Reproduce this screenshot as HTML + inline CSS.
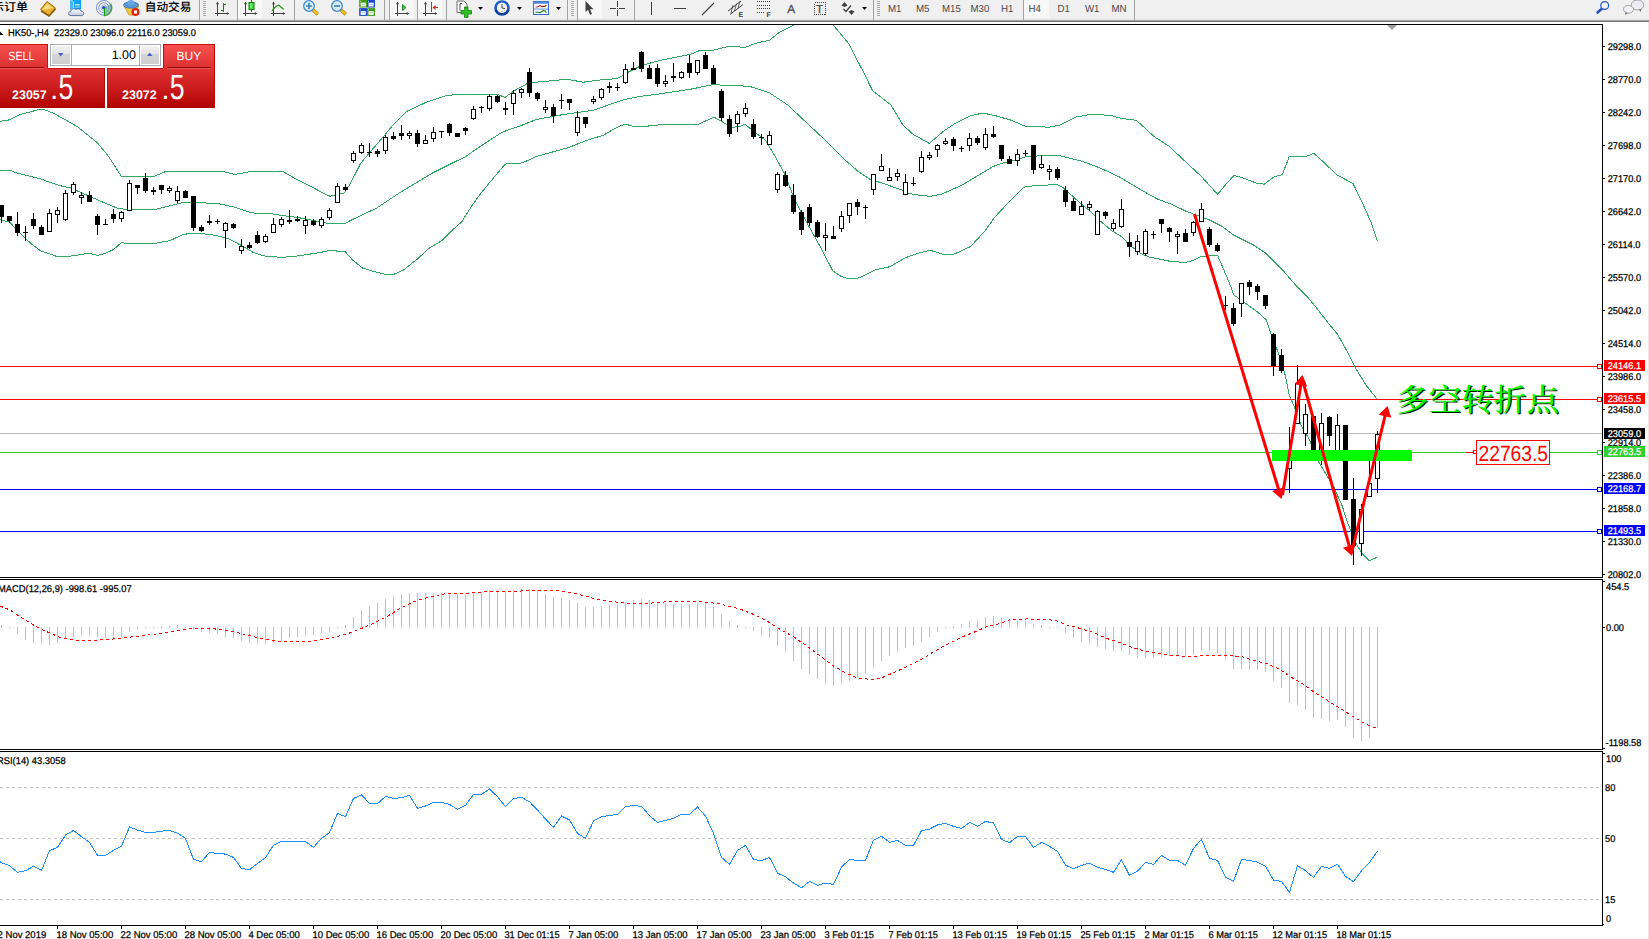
<!DOCTYPE html>
<html><head><meta charset="utf-8"><title>HK50 H4</title>
<style>
html,body{margin:0;padding:0;background:#fff;}
body{width:1649px;height:939px;overflow:hidden;position:relative;font-family:"Liberation Sans", "Noto Sans CJK SC", sans-serif;}
svg{position:absolute;left:0;top:0;display:block;font-family:"Liberation Sans", "Noto Sans CJK SC", sans-serif;}
svg text{white-space:pre;text-rendering:geometricPrecision;}
</style></head><body>
<svg width="1649" height="939" viewBox="0 0 1649 939">
<rect x="0" y="0" width="1649" height="939" fill="#fff"/>
<rect x="0" y="0" width="1649" height="20" fill="#f0f0f0"/><rect x="0" y="19" width="1649" height="1" fill="#e2e2e2"/>
<rect x="0" y="20" width="1649" height="1" fill="#a8a8a8"/><rect x="0" y="21" width="1649" height="1" fill="#707070"/><rect x="0" y="22" width="1649" height="2" fill="#fdfdfd"/>
<rect x="1648" y="22" width="1" height="917" fill="#e8e8e8"/>
<text x="28" y="11.2" font-size="11.5" font-weight="500" text-anchor="end" fill="#000" textLength="36" lengthAdjust="spacingAndGlyphs">示订单</text>
<path d="M40.5 9.5 L47 1.5 L55.5 8 L49 15.5 Z" fill="#e8b030" stroke="#9a6a10" stroke-width="1"/><path d="M42 10 L47.5 3.5 L53 8 Z" fill="#f8dc80"/><path d="M41 11 L49 16 L55.5 9" stroke="#8a5a08" stroke-width="1.5" fill="none"/>
<defs><linearGradient id="cl" x1="0" y1="0" x2="0" y2="1"><stop offset="0" stop-color="#ffffff"/><stop offset="1" stop-color="#bcc8dc"/></linearGradient></defs><rect x="70.3" y="-1" width="10.8" height="10.5" fill="#0ea0fa"/><path d="M70.3 -1 L73.6 1.8 L73.6 9.5 L70.3 9.5 Z" fill="#46b8ff"/><path d="M70.6 -0.5 L73.6 1.8 V9" stroke="#d8f0ff" stroke-width="0.7" fill="none"/><rect x="75" y="4.2" width="4.8" height="1.2" fill="#e8f6ff"/><rect x="75" y="6.6" width="4.8" height="1" fill="#9cd8ff"/><path d="M71 15.6 C68 15.6 67.6 11.4 71 11.2 C71.2 8.6 74.6 8 76 9.8 C77.4 8.2 80.6 8.8 80.8 11 C84.4 10.8 84.8 15.6 81.4 15.6 Z" fill="url(#cl)" stroke="#4c68a4" stroke-width="0.9"/>
<path d="M103.8 7.8 L103.8 15.8 A8 8 0 0 0 110.7 3.8 Z" fill="#48b048" opacity="0.55"/><g fill="none"><circle cx="103.8" cy="7.8" r="7.4" stroke="#5078d0" stroke-width="1" opacity="0.75"/><circle cx="103.8" cy="7.8" r="5" stroke="#6088d8" stroke-width="1" opacity="0.7"/><circle cx="103.8" cy="7.8" r="2.9" stroke="#80a0e0" stroke-width="0.9" opacity="0.7"/></g><path d="M103.8 15.8 A8 8 0 0 0 110.7 3.8" stroke="#309030" stroke-width="1.2" fill="none" opacity="0.8"/><circle cx="103.8" cy="7.8" r="1.8" fill="#1c4cc8"/><rect x="104" y="8" width="1" height="8" fill="#10a010"/>
<path d="M124 6 L139 6 L133 15 L129 15 Z" fill="#f0c840" stroke="#c09820" stroke-width="0.8"/><ellipse cx="131" cy="5" rx="7.5" ry="3.2" fill="#5a9ad8" stroke="#3a70b0" stroke-width="0.8"/><ellipse cx="131" cy="2.5" rx="3.5" ry="2.5" fill="#6aa8e0"/><circle cx="135.5" cy="12" r="4" fill="#e02010"/><rect x="134" y="10.5" width="3" height="3" fill="#fff"/>
<text x="144.8" y="11.3" font-size="11.5" font-weight="500" fill="#000" textLength="46.6" lengthAdjust="spacingAndGlyphs">自动交易</text>
<rect x="199" y="0" width="1" height="20" fill="#a0a0a0" shape-rendering="crispEdges"/>
<rect x="203" y="1" width="3" height="1" fill="#a8a8a8" shape-rendering="crispEdges"/>
<rect x="203" y="3" width="3" height="1" fill="#a8a8a8" shape-rendering="crispEdges"/>
<rect x="203" y="5" width="3" height="1" fill="#a8a8a8" shape-rendering="crispEdges"/>
<rect x="203" y="7" width="3" height="1" fill="#a8a8a8" shape-rendering="crispEdges"/>
<rect x="203" y="9" width="3" height="1" fill="#a8a8a8" shape-rendering="crispEdges"/>
<rect x="203" y="11" width="3" height="1" fill="#a8a8a8" shape-rendering="crispEdges"/>
<rect x="203" y="13" width="3" height="1" fill="#a8a8a8" shape-rendering="crispEdges"/>
<rect x="203" y="15" width="3" height="1" fill="#a8a8a8" shape-rendering="crispEdges"/>
<g fill="#404040" shape-rendering="crispEdges"><rect x="217" y="3" width="1" height="13"/><rect x="215" y="13" width="13" height="1"/></g><path d="M217.5 1.6 L216 4.2 L219 4.2 Z M229.3 13.5 L226.8 12 L226.8 15 Z" fill="#404040"/>
<g fill="#0a8a0a" shape-rendering="crispEdges"><rect x="222.5" y="3" width="1.5" height="9"/><rect x="224" y="4" width="2" height="1"/><rect x="221" y="10" width="2" height="1"/></g>
<rect x="237" y="0" width="1" height="20" fill="#a0a0a0" shape-rendering="crispEdges"/>
<rect x="238" y="0" width="24" height="18" fill="#f8f8f8" shape-rendering="crispEdges"/>
<g fill="#404040" shape-rendering="crispEdges"><rect x="245" y="3" width="1" height="13"/><rect x="243" y="13" width="13" height="1"/></g><path d="M245.5 1.6 L244 4.2 L247 4.2 Z M257.3 13.5 L254.8 12 L254.8 15 Z" fill="#404040"/>
<rect x="251" y="0" width="1" height="12" fill="#108010" shape-rendering="crispEdges"/><rect x="249" y="2.5" width="5" height="7" fill="#38dc38" stroke="#0c800c" stroke-width="1"/><rect x="250.3" y="3.5" width="1.6" height="5" fill="#90f890" opacity="0.7"/>
<g fill="#404040" shape-rendering="crispEdges"><rect x="273" y="3" width="1" height="13"/><rect x="271" y="13" width="13" height="1"/></g><path d="M273.5 1.6 L272 4.2 L275 4.2 Z M285.3 13.5 L282.8 12 L282.8 15 Z" fill="#404040"/>
<path d="M272 10.8 C274.5 8 276.5 5.2 278.3 5.4 C280 5.6 281.5 8 283.8 9.2" stroke="#1c981c" stroke-width="1.2" fill="none"/>
<rect x="294" y="0" width="1" height="20" fill="#a0a0a0" shape-rendering="crispEdges"/>
<path d="M313 10 L317.8 14.3" stroke="#b08010" stroke-width="3.6" stroke-linecap="butt"/><path d="M313 10 L317.6 14.1" stroke="#e8c020" stroke-width="2.4" stroke-linecap="butt"/><circle cx="309" cy="6" r="5.3" fill="#d8ecfc" stroke="#4088d0" stroke-width="1.3"/><path d="M306 6 H312 M309 3 V9" stroke="#3c88b8" stroke-width="1.7"/>
<path d="M341 10 L345.8 14.3" stroke="#b08010" stroke-width="3.6" stroke-linecap="butt"/><path d="M341 10 L345.6 14.1" stroke="#e8c020" stroke-width="2.4" stroke-linecap="butt"/><circle cx="337" cy="6" r="5.3" fill="#d8ecfc" stroke="#4088d0" stroke-width="1.3"/><path d="M334 6 H340" stroke="#3c88b8" stroke-width="1.7"/>
<rect x="359.2" y="-0.3" width="7.9" height="7.8" fill="#3c9c18"/><rect x="360.59999999999997" y="2.7" width="5.2" height="3.8" fill="#ffffff"/><rect x="361.4" y="3.9000000000000004" width="3.6" height="0.9" fill="#a8d890"/><rect x="360.2" y="0.8999999999999999" width="0.9" height="0.9" fill="#e0f0e0"/>
<rect x="367.1" y="-0.3" width="7.9" height="7.8" fill="#1848c8"/><rect x="368.5" y="2.7" width="5.2" height="3.8" fill="#ffffff"/><rect x="369.3" y="3.9000000000000004" width="3.6" height="0.9" fill="#a0b8f0"/><rect x="368.1" y="0.8999999999999999" width="0.9" height="0.9" fill="#e0f0e0"/>
<rect x="359.2" y="8.1" width="7.9" height="7.8" fill="#1848c8"/><rect x="360.59999999999997" y="11.1" width="5.2" height="3.8" fill="#ffffff"/><rect x="361.4" y="12.3" width="3.6" height="0.9" fill="#a0b8f0"/><rect x="360.2" y="9.299999999999999" width="0.9" height="0.9" fill="#e0f0e0"/>
<rect x="367.1" y="8.1" width="7.9" height="7.8" fill="#3c9c18"/><rect x="368.5" y="11.1" width="5.2" height="3.8" fill="#ffffff"/><rect x="369.3" y="12.3" width="3.6" height="0.9" fill="#a8d890"/><rect x="368.1" y="9.299999999999999" width="0.9" height="0.9" fill="#e0f0e0"/>
<rect x="384" y="0" width="1" height="20" fill="#a0a0a0" shape-rendering="crispEdges"/>
<rect x="389" y="0" width="1" height="20" fill="#a0a0a0" shape-rendering="crispEdges"/>
<rect x="390" y="0" width="24" height="18" fill="#f8f8f8" shape-rendering="crispEdges"/>
<g fill="#404040" shape-rendering="crispEdges"><rect x="397" y="3" width="1" height="13"/><rect x="395" y="13" width="13" height="1"/></g><path d="M397.5 1.6 L396 4.2 L399 4.2 Z M409.3 13.5 L406.8 12 L406.8 15 Z" fill="#404040"/>
<path d="M402.5 4.5 L406 7.5 L402.5 10.5 Z" fill="#40c040" stroke="#108010" stroke-width="0.8"/>
<rect x="417" y="0" width="1" height="20" fill="#a0a0a0" shape-rendering="crispEdges"/>
<rect x="418" y="0" width="24" height="18" fill="#f8f8f8" shape-rendering="crispEdges"/>
<g fill="#404040" shape-rendering="crispEdges"><rect x="425" y="3" width="1" height="13"/><rect x="423" y="13" width="13" height="1"/></g><path d="M425.5 1.6 L424 4.2 L427 4.2 Z M437.3 13.5 L434.8 12 L434.8 15 Z" fill="#404040"/>
<rect x="431" y="2" width="1" height="10" fill="#2060c0" shape-rendering="crispEdges"/><path d="M433 7.5 H438" stroke="#d03010" stroke-width="1" fill="none"/><path d="M432.5 7.5 L435.5 5 L435.5 10 Z" fill="#d03010"/>
<rect x="446" y="0" width="1" height="20" fill="#a0a0a0" shape-rendering="crispEdges"/>
<path d="M457 1 H464 L467 4 V12.5 H457 Z" fill="#fff" stroke="#707070" stroke-width="1"/><path d="M460 3.5 v7 M460 3.5 h2" stroke="#505050" stroke-width="1" fill="none"/><path d="M464.5 7 h3.5 v3.5 h3.5 v3.5 h-3.5 v3.5 h-3.5 v-3.5 h-3.5 v-3.5 h3.5 Z" fill="#30c020" stroke="#108010" stroke-width="0.8"/>
<path d="M478 7 L483 7 L480.5 10 Z" fill="#000"/>
<circle cx="502" cy="8" r="7.8" fill="#1a5cc8"/><path d="M494.6 10 A7.8 7.8 0 0 0 509.4 10 Z" fill="#0c3c98"/><circle cx="502" cy="7.8" r="5.2" fill="#f4f4f8"/><path d="M502 4.2 V8 L505 8.6" stroke="#303030" stroke-width="0.9" fill="none"/><circle cx="502" cy="11.6" r="0.6" fill="#5090e0"/>
<path d="M517 7 L522 7 L519.5 10 Z" fill="#000"/>
<rect x="533.5" y="1.5" width="15" height="13" fill="#fff" stroke="#3c70cc" stroke-width="1.1"/><rect x="533.5" y="1.5" width="15" height="2.2" fill="#5088dc"/><rect x="534" y="8.6" width="14" height="0.9" fill="#4c80d4"/><path d="M535.5 7 L538 6.8 L540 5.6 L542 6.6 L544.5 6.4 L546.5 5.2" stroke="#a02010" stroke-width="1.1" fill="none"/><path d="M535.5 12.3 L538 12 L540 12.8 L543 10.6 L545 11 L546.5 12.6" stroke="#109020" stroke-width="1.1" fill="none"/>
<path d="M556 7 L561 7 L558.5 10 Z" fill="#000"/>
<rect x="567" y="0" width="1" height="20" fill="#a0a0a0" shape-rendering="crispEdges"/>
<rect x="571" y="1" width="3" height="1" fill="#a8a8a8" shape-rendering="crispEdges"/>
<rect x="571" y="3" width="3" height="1" fill="#a8a8a8" shape-rendering="crispEdges"/>
<rect x="571" y="5" width="3" height="1" fill="#a8a8a8" shape-rendering="crispEdges"/>
<rect x="571" y="7" width="3" height="1" fill="#a8a8a8" shape-rendering="crispEdges"/>
<rect x="571" y="9" width="3" height="1" fill="#a8a8a8" shape-rendering="crispEdges"/>
<rect x="571" y="11" width="3" height="1" fill="#a8a8a8" shape-rendering="crispEdges"/>
<rect x="571" y="13" width="3" height="1" fill="#a8a8a8" shape-rendering="crispEdges"/>
<rect x="571" y="15" width="3" height="1" fill="#a8a8a8" shape-rendering="crispEdges"/>
<rect x="577" y="0" width="1" height="20" fill="#a0a0a0" shape-rendering="crispEdges"/>
<rect x="578" y="0" width="24" height="18" fill="#f8f8f8" shape-rendering="crispEdges"/>
<path d="M585.5 1 L585.5 12 L588 9.8 L590 14.8 L592 14 L590 9.2 L593.5 9.2 Z" fill="#404040"/>
<g shape-rendering="crispEdges" fill="#404040"><rect x="617" y="1" width="1" height="15"/><rect x="610" y="8" width="15" height="1"/></g><rect x="616" y="7" width="3" height="3" fill="#f0f0f0"/><rect x="617" y="8" width="1" height="1" fill="#404040"/>
<rect x="634" y="0" width="1" height="20" fill="#a0a0a0" shape-rendering="crispEdges"/>
<g shape-rendering="crispEdges" fill="#404040"><rect x="651" y="2" width="1" height="13"/><rect x="674" y="8" width="12" height="1"/></g>
<path d="M702 15 L714 3" stroke="#404040" stroke-width="1.1"/>
<g stroke="#404040" stroke-width="1" fill="none"><path d="M728 11 L741 1 M730 14.5 L743 4.5" /><path d="M731 13 L733 5 M734.5 11 L736.5 3.5 M738 8.5 L740 1" stroke-width="0.8"/></g><text x="738.5" y="16.8" font-size="7" font-weight="bold" fill="#404040">E</text>
<line x1="757" y1="1.5" x2="771" y2="1.5" stroke="#404040" stroke-width="1" stroke-dasharray="1 1" shape-rendering="crispEdges"/>
<line x1="757" y1="5.5" x2="771" y2="5.5" stroke="#404040" stroke-width="1" stroke-dasharray="1 1" shape-rendering="crispEdges"/>
<line x1="757" y1="8.5" x2="771" y2="8.5" stroke="#404040" stroke-width="1" stroke-dasharray="1 1" shape-rendering="crispEdges"/>
<line x1="757" y1="12.5" x2="765" y2="12.5" stroke="#404040" stroke-width="1" stroke-dasharray="1 1" shape-rendering="crispEdges"/>
<text x="766.5" y="16.8" font-size="7" font-weight="bold" fill="#404040">F</text>
<text x="787.3" y="12.6" font-size="11.8" fill="#505050" stroke="#505050" stroke-width="0.3">A</text>
<rect x="814.5" y="2.5" width="11" height="12" fill="none" stroke="#404040" stroke-width="1" stroke-dasharray="1 1" shape-rendering="crispEdges"/><text x="816" y="12.6" font-size="11.5" fill="#505050" stroke="#505050" stroke-width="0.3">T</text>
<path d="M841.5 5.5 L844.5 2 L847.5 5.5 L844.5 7 Z M848.5 11.5 L851.5 10 L854.5 11.5 L851.5 15 Z" fill="#404040"/><path d="M843.5 9 L846 11.5 L851 5.5" stroke="#404040" stroke-width="1.3" fill="none"/>
<path d="M862 7 L867 7 L864.5 10 Z" fill="#000"/>
<rect x="873" y="0" width="1" height="20" fill="#a0a0a0" shape-rendering="crispEdges"/>
<rect x="877" y="1" width="3" height="1" fill="#a8a8a8" shape-rendering="crispEdges"/>
<rect x="877" y="3" width="3" height="1" fill="#a8a8a8" shape-rendering="crispEdges"/>
<rect x="877" y="5" width="3" height="1" fill="#a8a8a8" shape-rendering="crispEdges"/>
<rect x="877" y="7" width="3" height="1" fill="#a8a8a8" shape-rendering="crispEdges"/>
<rect x="877" y="9" width="3" height="1" fill="#a8a8a8" shape-rendering="crispEdges"/>
<rect x="877" y="11" width="3" height="1" fill="#a8a8a8" shape-rendering="crispEdges"/>
<rect x="877" y="13" width="3" height="1" fill="#a8a8a8" shape-rendering="crispEdges"/>
<rect x="877" y="15" width="3" height="1" fill="#a8a8a8" shape-rendering="crispEdges"/>
<text x="888" y="12.2" font-size="10.2" fill="#484848" textLength="13.5" lengthAdjust="spacingAndGlyphs">M1</text>
<text x="916" y="12.2" font-size="10.2" fill="#484848" textLength="13.5" lengthAdjust="spacingAndGlyphs">M5</text>
<text x="942" y="12.2" font-size="10.2" fill="#484848" textLength="18.8" lengthAdjust="spacingAndGlyphs">M15</text>
<text x="970.5" y="12.2" font-size="10.2" fill="#484848" textLength="18.8" lengthAdjust="spacingAndGlyphs">M30</text>
<text x="1001" y="12.2" font-size="10.2" fill="#484848" textLength="12.4" lengthAdjust="spacingAndGlyphs">H1</text>
<text x="1057.5" y="12.2" font-size="10.2" fill="#484848" textLength="12.4" lengthAdjust="spacingAndGlyphs">D1</text>
<text x="1085" y="12.2" font-size="10.2" fill="#484848" textLength="14.5" lengthAdjust="spacingAndGlyphs">W1</text>
<text x="1111.5" y="12.2" font-size="10.2" fill="#484848" textLength="15.1" lengthAdjust="spacingAndGlyphs">MN</text>
<rect x="1023" y="0" width="1" height="20" fill="#a0a0a0" shape-rendering="crispEdges"/>
<rect x="1024" y="0" width="25" height="18" fill="#f8f8f8" shape-rendering="crispEdges"/>
<text x="1028.5" y="12.2" font-size="10.2" fill="#484848" textLength="12.4" lengthAdjust="spacingAndGlyphs">H4</text>
<rect x="1134" y="0" width="1" height="20" fill="#a0a0a0" shape-rendering="crispEdges"/>
<path d="M1602 8.5 L1597.5 12.5" stroke="#2050c8" stroke-width="2.6" stroke-linecap="round"/><circle cx="1604.7" cy="5.5" r="3.9" fill="#f8f8ff" stroke="#2458d0" stroke-width="1.3"/>
<ellipse cx="1637.5" cy="5" rx="6.3" ry="5" fill="#ececf2" stroke="#9a9a9a" stroke-width="0.9"/><path d="M1639 9.5 L1640.5 12 L1641.5 9" fill="#707070"/><ellipse cx="1628.5" cy="9.3" rx="5" ry="3.9" fill="#f0f0f6" stroke="#9a9a9a" stroke-width="0.9"/><path d="M1625.5 12.5 L1625 15 L1628 13" fill="#707070"/>
<g shape-rendering="crispEdges">
<rect x="0" y="24" width="1603" height="1" fill="#000" />
<rect x="0" y="577" width="1603" height="1" fill="#000" />
<rect x="0" y="579" width="1603" height="1" fill="#000" />
<rect x="0" y="749" width="1603" height="1" fill="#000" />
<rect x="0" y="751" width="1603" height="1" fill="#000" />
<rect x="0" y="925" width="1603" height="1" fill="#000" />
<rect x="1602" y="24" width="1" height="554" fill="#000" />
<rect x="1602" y="579" width="1" height="171" fill="#000" />
<rect x="1602" y="751" width="1" height="175" fill="#000" />
</g>
<defs><clipPath id="cm"><rect x="0" y="25" width="1602" height="552"/></clipPath></defs>
<g shape-rendering="crispEdges">
<rect x="0" y="366" width="1602" height="1" fill="#ff0000" />
<rect x="0" y="399" width="1602" height="1" fill="#ff0000" />
<rect x="0" y="433" width="1602" height="1" fill="#c0c0c0" />
<rect x="0" y="452" width="1602" height="1" fill="#32cd32" />
<rect x="0" y="489" width="1602" height="1" fill="#0000ff" />
<rect x="0" y="531" width="1602" height="1" fill="#0000ff" />
</g>
<g clip-path="url(#cm)" shape-rendering="crispEdges">
<polyline points="0.0,121.2 8.1,120.2 20.2,114.6 38.4,109.7 44.5,109.7 54.6,113.8 76.9,126.3 97.1,142.5 107.2,154.6 115.3,166.8 121.4,176.5 153.8,176.5 165.9,171.4 196.3,171.2 204.4,172.0 222.6,171.4 234.7,174.5 252.9,171.2 282.3,171.2 297.4,179.9 315.6,189.0 323.7,193.5 330.1,196.3 344.3,192.9 350.3,183.8 360.5,163.5 370.6,151.4 384.7,135.2 392.8,125.1 407.0,111.3 427.2,101.8 445.4,95.8 457.6,94.3 477.8,94.3 498.1,94.7 505.1,97.4 514.2,90.7 528.4,83.0 542.6,81.6 566.8,79.2 583.0,82.2 603.3,79.6 617.4,78.6 627.5,72.5 641.7,65.4 660.2,60.4 690.6,54.3 698.7,50.9 710.8,50.9 729.0,46.3 745.2,47.3 757.4,42.8 769.5,40.2 779.6,32.1 793.8,25.0" fill="none" stroke="#30a862" stroke-width="1" />
<polyline points="833.2,25.0 848.4,43.2 862.6,70.5 872.7,90.8 890.9,104.9 903.0,125.2 913.1,134.3 929.3,143.4 943.5,131.2 955.6,123.1 970.0,116.1 982.6,113.0 994.7,115.5 1010.9,120.1 1025.1,126.2 1049.3,127.2 1059.4,125.2 1075.6,117.1 1090.0,114.5 1109.7,115.2 1121.9,118.6 1136.0,120.2 1144.1,127.3 1146.8,130.0 1154.9,137.1 1169.0,146.2 1185.2,161.4 1201.4,176.5 1217.6,194.3 1225.7,184.6 1233.8,175.5 1241.9,177.5 1256.0,183.0 1264.1,184.2 1274.2,176.9 1282.3,174.5 1289.4,156.3 1306.6,156.3 1313.7,153.3 1322.8,161.4 1337.0,174.9 1353.1,183.6 1363.3,204.9 1371.4,223.1 1377.4,241.3" fill="none" stroke="#30a862" stroke-width="1" />
<polyline points="0.0,170.4 10.1,170.4 16.2,172.8 40.5,178.9 58.7,185.4 70.8,188.0 89.0,196.1 105.2,203.2 117.4,208.2 129.5,209.9 155.8,209.3 182.1,202.8 190.2,202.2 202.3,202.8 218.5,203.6 234.7,207.2 248.9,211.9 254.9,213.3 271.1,213.7 283.3,215.7 297.4,217.4 307.5,219.4 330.0,223.8 345.5,223.2 351.4,220.0 376.7,208.1 400.9,191.9 433.3,172.6 465.7,156.5 481.9,145.3 502.1,132.2 522.3,125.1 536.5,119.4 562.8,114.6 593.1,110.3 623.5,99.8 639.7,96.4 660.2,93.8 690.6,89.2 712.8,84.7 749.3,86.3 769.5,92.8 787.7,104.9 805.9,122.1 822.1,137.3 842.3,157.5 858.5,171.7 870.7,179.8 881.4,182.8 901.6,189.9 905.7,193.0 917.8,195.0 930.0,196.4 942.1,194.0 962.3,184.9 982.6,172.7 992.7,166.7 1002.8,163.0 1017.0,159.6 1025.1,156.9 1043.3,155.5 1059.4,155.5 1075.6,159.6 1083.7,161.8 1100.2,168.0 1120.5,177.5 1140.7,189.7 1156.9,198.8 1173.1,204.9 1185.2,210.9 1193.3,214.0 1209.5,220.0 1221.6,226.1 1233.8,235.2 1254.0,245.3 1266.1,253.4 1282.3,269.6 1294.5,283.8 1306.6,295.9 1316.7,308.1 1325.8,320.0 1337.8,334.6 1347.9,352.8 1356.0,369.0 1366.1,385.2 1377.3,399.4" fill="none" stroke="#30a862" stroke-width="1" />
<polyline points="0.0,219.4 10.1,222.4 16.2,229.5 24.3,237.6 32.4,244.7 40.5,250.7 56.7,256.4 68.8,256.4 89.0,253.2 97.1,255.4 105.2,253.4 113.3,249.7 121.4,242.6 129.5,243.7 155.8,243.2 170.0,240.6 184.1,234.1 200.3,233.5 214.5,235.2 228.6,238.6 242.8,246.3 252.9,252.2 263.0,255.8 281.2,257.4 299.4,255.8 321.7,252.2 330.0,250.3 345.5,252.0 352.6,260.0 362.7,268.1 372.8,271.2 385.0,274.2 394.1,274.2 403.2,270.2 417.4,259.0 429.5,247.9 441.6,240.8 451.8,230.7 461.9,221.6 471.7,206.0 481.9,191.9 492.0,179.7 505.1,164.1 522.3,162.9 536.5,156.5 568.9,147.4 587.1,140.3 603.3,135.2 617.4,127.1 625.5,124.1 633.6,126.5 643.7,126.5 660.2,124.8 698.7,124.2 713.9,117.1 720.9,121.1 731.0,127.2 739.1,126.8 745.2,124.2 753.3,131.2 765.4,140.3 773.5,153.5 785.7,175.7 793.8,198.0 800.5,211.2 810.6,229.4 820.7,247.6 832.8,270.9 840.9,276.3 849.0,278.9 859.1,277.9 875.3,269.8 889.5,266.8 905.7,257.7 917.8,253.2 930.0,250.2 942.1,254.1 954.2,254.1 970.4,246.6 984.6,231.4 994.7,217.2 1008.9,202.1 1023.0,187.9 1027.1,186.3 1043.3,185.3 1057.4,184.5 1063.5,187.9 1075.6,199.0 1083.7,206.1 1090.1,210.9 1100.2,221.0 1112.4,231.2 1122.5,237.2 1128.6,244.3 1140.7,253.4 1148.8,256.9 1169.0,261.1 1185.2,262.5 1193.3,260.5 1201.4,256.5 1217.6,255.4 1221.6,264.5 1229.7,283.8 1233.8,294.9 1246.8,304.3 1256.9,311.4 1266.0,319.5 1271.0,333.6 1279.1,354.9 1285.2,375.1 1289.3,395.3 1296.3,411.5 1301.4,425.7 1309.5,439.8 1317.6,460.1 1321.6,466.8 1333.8,487.0 1341.9,505.2 1347.9,523.4 1354.0,539.6 1362.1,553.8 1369.2,560.9 1377.3,557.2" fill="none" stroke="#30a862" stroke-width="1" />
</g>
<g clip-path="url(#cm)" shape-rendering="crispEdges">
<rect x="1" y="205" width="1" height="18" fill="#000" />
<rect x="-1" y="205" width="5" height="12" fill="#000" />
<rect x="9" y="216" width="1" height="7" fill="#000" />
<rect x="7" y="216" width="5" height="5" fill="#000" />
<rect x="17" y="212" width="1" height="24" fill="#000" />
<rect x="15" y="224" width="5" height="9" fill="#000" />
<rect x="25" y="226" width="1" height="15" fill="#000" />
<rect x="23" y="232" width="5" height="1" fill="#000" />
<rect x="33" y="213" width="1" height="16" fill="#000" />
<rect x="31" y="219" width="5" height="7" fill="#000" />
<rect x="41" y="225" width="1" height="10" fill="#000" />
<rect x="39" y="227" width="5" height="8" fill="#000" />
<rect x="49" y="209" width="1" height="23" fill="#000" />
<rect x="47" y="213" width="5" height="19" fill="#000" />
<rect x="48" y="214" width="3" height="17" fill="#fff" />
<rect x="57" y="207" width="1" height="16" fill="#000" />
<rect x="55" y="210" width="5" height="5" fill="#000" />
<rect x="56" y="211" width="3" height="3" fill="#fff" />
<rect x="65" y="190" width="1" height="31" fill="#000" />
<rect x="63" y="193" width="5" height="27" fill="#000" />
<rect x="64" y="194" width="3" height="25" fill="#fff" />
<rect x="73" y="182" width="1" height="13" fill="#000" />
<rect x="71" y="184" width="5" height="9" fill="#000" />
<rect x="72" y="185" width="3" height="7" fill="#fff" />
<rect x="81" y="192" width="1" height="12" fill="#000" />
<rect x="79" y="195" width="5" height="3" fill="#000" />
<rect x="80" y="196" width="3" height="1" fill="#fff" />
<rect x="89" y="191" width="1" height="11" fill="#000" />
<rect x="87" y="195" width="5" height="7" fill="#000" />
<rect x="97" y="214" width="1" height="21" fill="#000" />
<rect x="95" y="216" width="5" height="9" fill="#000" />
<rect x="105" y="219" width="1" height="6" fill="#000" />
<rect x="103" y="224" width="5" height="1" fill="#000" />
<rect x="113" y="209" width="1" height="14" fill="#000" />
<rect x="111" y="214" width="5" height="5" fill="#000" />
<rect x="121" y="211" width="1" height="11" fill="#000" />
<rect x="119" y="212" width="5" height="7" fill="#000" />
<rect x="120" y="213" width="3" height="5" fill="#fff" />
<rect x="129" y="180" width="1" height="31" fill="#000" />
<rect x="127" y="183" width="5" height="28" fill="#000" />
<rect x="128" y="184" width="3" height="26" fill="#fff" />
<rect x="137" y="185" width="1" height="9" fill="#000" />
<rect x="135" y="185" width="5" height="3" fill="#000" />
<rect x="145" y="173" width="1" height="20" fill="#000" />
<rect x="143" y="178" width="5" height="13" fill="#000" />
<rect x="153" y="187" width="1" height="8" fill="#000" />
<rect x="151" y="190" width="5" height="2" fill="#000" />
<rect x="161" y="185" width="1" height="9" fill="#000" />
<rect x="159" y="185" width="5" height="5" fill="#000" />
<rect x="169" y="186" width="1" height="7" fill="#000" />
<rect x="167" y="188" width="5" height="3" fill="#000" />
<rect x="168" y="189" width="3" height="1" fill="#fff" />
<rect x="177" y="186" width="1" height="17" fill="#000" />
<rect x="175" y="191" width="5" height="10" fill="#000" />
<rect x="176" y="192" width="3" height="8" fill="#fff" />
<rect x="185" y="190" width="1" height="8" fill="#000" />
<rect x="183" y="191" width="5" height="7" fill="#000" />
<rect x="193" y="196" width="1" height="35" fill="#000" />
<rect x="191" y="196" width="5" height="32" fill="#000" />
<rect x="201" y="225" width="1" height="7" fill="#000" />
<rect x="199" y="227" width="5" height="4" fill="#000" />
<rect x="209" y="215" width="1" height="10" fill="#000" />
<rect x="207" y="221" width="5" height="2" fill="#000" />
<rect x="217" y="219" width="1" height="5" fill="#000" />
<rect x="215" y="221" width="5" height="1" fill="#000" />
<rect x="225" y="222" width="1" height="26" fill="#000" />
<rect x="223" y="223" width="5" height="8" fill="#000" />
<rect x="224" y="224" width="3" height="6" fill="#fff" />
<rect x="233" y="223" width="1" height="6" fill="#000" />
<rect x="231" y="224" width="5" height="4" fill="#000" />
<rect x="241" y="239" width="1" height="15" fill="#000" />
<rect x="239" y="246" width="5" height="5" fill="#000" />
<rect x="240" y="247" width="3" height="3" fill="#fff" />
<rect x="249" y="242" width="1" height="7" fill="#000" />
<rect x="247" y="245" width="5" height="3" fill="#000" />
<rect x="257" y="231" width="1" height="13" fill="#000" />
<rect x="255" y="235" width="5" height="8" fill="#000" />
<rect x="265" y="234" width="1" height="9" fill="#000" />
<rect x="263" y="236" width="5" height="6" fill="#000" />
<rect x="264" y="237" width="3" height="4" fill="#fff" />
<rect x="273" y="218" width="1" height="15" fill="#000" />
<rect x="271" y="224" width="5" height="9" fill="#000" />
<rect x="272" y="225" width="3" height="7" fill="#fff" />
<rect x="281" y="217" width="1" height="10" fill="#000" />
<rect x="279" y="219" width="5" height="6" fill="#000" />
<rect x="280" y="220" width="3" height="4" fill="#fff" />
<rect x="289" y="210" width="1" height="14" fill="#000" />
<rect x="287" y="220" width="5" height="2" fill="#000" />
<rect x="297" y="216" width="1" height="6" fill="#000" />
<rect x="295" y="219" width="5" height="2" fill="#000" />
<rect x="305" y="216" width="1" height="18" fill="#000" />
<rect x="303" y="220" width="5" height="6" fill="#000" />
<rect x="304" y="221" width="3" height="4" fill="#fff" />
<rect x="313" y="219" width="1" height="7" fill="#000" />
<rect x="311" y="221" width="5" height="4" fill="#000" />
<rect x="321" y="217" width="1" height="11" fill="#000" />
<rect x="319" y="219" width="5" height="7" fill="#000" />
<rect x="320" y="220" width="3" height="5" fill="#fff" />
<rect x="329" y="208" width="1" height="12" fill="#000" />
<rect x="327" y="210" width="5" height="8" fill="#000" />
<rect x="328" y="211" width="3" height="6" fill="#fff" />
<rect x="337" y="183" width="1" height="20" fill="#000" />
<rect x="335" y="186" width="5" height="17" fill="#000" />
<rect x="336" y="187" width="3" height="15" fill="#fff" />
<rect x="345" y="184" width="1" height="7" fill="#000" />
<rect x="343" y="187" width="5" height="3" fill="#000" />
<rect x="353" y="151" width="1" height="12" fill="#000" />
<rect x="351" y="153" width="5" height="8" fill="#000" />
<rect x="352" y="154" width="3" height="6" fill="#fff" />
<rect x="361" y="143" width="1" height="11" fill="#000" />
<rect x="359" y="145" width="5" height="8" fill="#000" />
<rect x="360" y="146" width="3" height="6" fill="#fff" />
<rect x="369" y="143" width="1" height="14" fill="#000" />
<rect x="367" y="152" width="5" height="1" fill="#000" />
<rect x="377" y="149" width="1" height="8" fill="#000" />
<rect x="375" y="151" width="5" height="3" fill="#000" />
<rect x="385" y="135" width="1" height="19" fill="#000" />
<rect x="383" y="137" width="5" height="14" fill="#000" />
<rect x="384" y="138" width="3" height="12" fill="#fff" />
<rect x="393" y="132" width="1" height="8" fill="#000" />
<rect x="391" y="136" width="5" height="3" fill="#000" />
<rect x="401" y="125" width="1" height="15" fill="#000" />
<rect x="399" y="133" width="5" height="3" fill="#000" />
<rect x="409" y="131" width="1" height="8" fill="#000" />
<rect x="407" y="133" width="5" height="3" fill="#000" />
<rect x="408" y="134" width="3" height="1" fill="#fff" />
<rect x="417" y="130" width="1" height="17" fill="#000" />
<rect x="415" y="133" width="5" height="11" fill="#000" />
<rect x="425" y="135" width="1" height="9" fill="#000" />
<rect x="423" y="140" width="5" height="4" fill="#000" />
<rect x="424" y="141" width="3" height="2" fill="#fff" />
<rect x="433" y="127" width="1" height="15" fill="#000" />
<rect x="431" y="132" width="5" height="7" fill="#000" />
<rect x="432" y="133" width="3" height="5" fill="#fff" />
<rect x="441" y="131" width="1" height="7" fill="#000" />
<rect x="439" y="131" width="5" height="1" fill="#000" />
<rect x="449" y="123" width="1" height="13" fill="#000" />
<rect x="447" y="124" width="5" height="9" fill="#000" />
<rect x="457" y="133" width="1" height="4" fill="#000" />
<rect x="455" y="133" width="5" height="4" fill="#000" />
<rect x="465" y="127" width="1" height="8" fill="#000" />
<rect x="463" y="128" width="5" height="3" fill="#000" />
<rect x="473" y="106" width="1" height="14" fill="#000" />
<rect x="471" y="109" width="5" height="10" fill="#000" />
<rect x="472" y="110" width="3" height="8" fill="#fff" />
<rect x="481" y="106" width="1" height="7" fill="#000" />
<rect x="479" y="107" width="5" height="1" fill="#000" />
<rect x="489" y="94" width="1" height="17" fill="#000" />
<rect x="487" y="96" width="5" height="13" fill="#000" />
<rect x="488" y="97" width="3" height="11" fill="#fff" />
<rect x="497" y="95" width="1" height="8" fill="#000" />
<rect x="495" y="96" width="5" height="6" fill="#000" />
<rect x="505" y="102" width="1" height="13" fill="#000" />
<rect x="503" y="108" width="5" height="2" fill="#000" />
<rect x="513" y="90" width="1" height="25" fill="#000" />
<rect x="511" y="93" width="5" height="11" fill="#000" />
<rect x="512" y="94" width="3" height="9" fill="#fff" />
<rect x="521" y="88" width="1" height="10" fill="#000" />
<rect x="519" y="89" width="5" height="4" fill="#000" />
<rect x="520" y="90" width="3" height="2" fill="#fff" />
<rect x="529" y="68" width="1" height="29" fill="#000" />
<rect x="527" y="72" width="5" height="21" fill="#000" />
<rect x="537" y="92" width="1" height="9" fill="#000" />
<rect x="535" y="93" width="5" height="6" fill="#000" />
<rect x="545" y="100" width="1" height="13" fill="#000" />
<rect x="543" y="107" width="5" height="3" fill="#000" />
<rect x="544" y="108" width="3" height="1" fill="#fff" />
<rect x="553" y="104" width="1" height="19" fill="#000" />
<rect x="551" y="107" width="5" height="9" fill="#000" />
<rect x="561" y="94" width="1" height="15" fill="#000" />
<rect x="559" y="100" width="5" height="1" fill="#000" />
<rect x="569" y="99" width="1" height="11" fill="#000" />
<rect x="567" y="99" width="5" height="4" fill="#000" />
<rect x="577" y="111" width="1" height="25" fill="#000" />
<rect x="575" y="117" width="5" height="16" fill="#000" />
<rect x="576" y="118" width="3" height="14" fill="#fff" />
<rect x="585" y="117" width="1" height="11" fill="#000" />
<rect x="583" y="117" width="5" height="7" fill="#000" />
<rect x="593" y="96" width="1" height="8" fill="#000" />
<rect x="591" y="99" width="5" height="3" fill="#000" />
<rect x="592" y="100" width="3" height="1" fill="#fff" />
<rect x="601" y="88" width="1" height="12" fill="#000" />
<rect x="599" y="89" width="5" height="9" fill="#000" />
<rect x="600" y="90" width="3" height="7" fill="#fff" />
<rect x="609" y="82" width="1" height="11" fill="#000" />
<rect x="607" y="86" width="5" height="2" fill="#000" />
<rect x="617" y="83" width="1" height="8" fill="#000" />
<rect x="615" y="87" width="5" height="1" fill="#000" />
<rect x="625" y="64" width="1" height="20" fill="#000" />
<rect x="623" y="69" width="5" height="14" fill="#000" />
<rect x="624" y="70" width="3" height="12" fill="#fff" />
<rect x="633" y="62" width="1" height="8" fill="#000" />
<rect x="631" y="68" width="5" height="2" fill="#000" />
<rect x="641" y="51" width="1" height="21" fill="#000" />
<rect x="639" y="52" width="5" height="17" fill="#000" />
<rect x="649" y="65" width="1" height="14" fill="#000" />
<rect x="647" y="68" width="5" height="11" fill="#000" />
<rect x="657" y="64" width="1" height="23" fill="#000" />
<rect x="655" y="68" width="5" height="16" fill="#000" />
<rect x="665" y="75" width="1" height="12" fill="#000" />
<rect x="663" y="81" width="5" height="3" fill="#000" />
<rect x="664" y="82" width="3" height="1" fill="#fff" />
<rect x="673" y="63" width="1" height="19" fill="#000" />
<rect x="671" y="76" width="5" height="2" fill="#000" />
<rect x="681" y="71" width="1" height="8" fill="#000" />
<rect x="679" y="72" width="5" height="6" fill="#000" />
<rect x="680" y="73" width="3" height="4" fill="#fff" />
<rect x="689" y="55" width="1" height="23" fill="#000" />
<rect x="687" y="63" width="5" height="10" fill="#000" />
<rect x="697" y="60" width="1" height="15" fill="#000" />
<rect x="695" y="60" width="5" height="13" fill="#000" />
<rect x="696" y="61" width="3" height="11" fill="#fff" />
<rect x="705" y="52" width="1" height="17" fill="#000" />
<rect x="703" y="55" width="5" height="14" fill="#000" />
<rect x="713" y="65" width="1" height="19" fill="#000" />
<rect x="711" y="68" width="5" height="16" fill="#000" />
<rect x="721" y="89" width="1" height="32" fill="#000" />
<rect x="719" y="91" width="5" height="27" fill="#000" />
<rect x="729" y="115" width="1" height="22" fill="#000" />
<rect x="727" y="119" width="5" height="15" fill="#000" />
<rect x="737" y="111" width="1" height="21" fill="#000" />
<rect x="735" y="114" width="5" height="10" fill="#000" />
<rect x="736" y="115" width="3" height="8" fill="#fff" />
<rect x="745" y="103" width="1" height="14" fill="#000" />
<rect x="743" y="108" width="5" height="6" fill="#000" />
<rect x="744" y="109" width="3" height="4" fill="#fff" />
<rect x="753" y="119" width="1" height="20" fill="#000" />
<rect x="751" y="124" width="5" height="13" fill="#000" />
<rect x="761" y="134" width="1" height="11" fill="#000" />
<rect x="759" y="137" width="5" height="1" fill="#000" />
<rect x="769" y="131" width="1" height="14" fill="#000" />
<rect x="767" y="135" width="5" height="10" fill="#000" />
<rect x="768" y="136" width="3" height="8" fill="#fff" />
<rect x="777" y="172" width="1" height="21" fill="#000" />
<rect x="775" y="174" width="5" height="16" fill="#000" />
<rect x="776" y="175" width="3" height="14" fill="#fff" />
<rect x="785" y="171" width="1" height="16" fill="#000" />
<rect x="783" y="175" width="5" height="11" fill="#000" />
<rect x="793" y="184" width="1" height="30" fill="#000" />
<rect x="791" y="195" width="5" height="17" fill="#000" />
<rect x="801" y="210" width="1" height="25" fill="#000" />
<rect x="799" y="212" width="5" height="18" fill="#000" />
<rect x="809" y="204" width="1" height="22" fill="#000" />
<rect x="807" y="207" width="5" height="16" fill="#000" />
<rect x="817" y="220" width="1" height="18" fill="#000" />
<rect x="815" y="222" width="5" height="15" fill="#000" />
<rect x="825" y="223" width="1" height="28" fill="#000" />
<rect x="823" y="235" width="5" height="3" fill="#000" />
<rect x="824" y="236" width="3" height="1" fill="#fff" />
<rect x="833" y="226" width="1" height="13" fill="#000" />
<rect x="831" y="236" width="5" height="3" fill="#000" />
<rect x="841" y="211" width="1" height="21" fill="#000" />
<rect x="839" y="216" width="5" height="13" fill="#000" />
<rect x="840" y="217" width="3" height="11" fill="#fff" />
<rect x="849" y="203" width="1" height="20" fill="#000" />
<rect x="847" y="203" width="5" height="13" fill="#000" />
<rect x="848" y="204" width="3" height="11" fill="#fff" />
<rect x="857" y="199" width="1" height="16" fill="#000" />
<rect x="855" y="202" width="5" height="5" fill="#000" />
<rect x="865" y="205" width="1" height="14" fill="#000" />
<rect x="863" y="207" width="5" height="1" fill="#000" />
<rect x="873" y="174" width="1" height="21" fill="#000" />
<rect x="871" y="174" width="5" height="16" fill="#000" />
<rect x="872" y="175" width="3" height="14" fill="#fff" />
<rect x="881" y="154" width="1" height="17" fill="#000" />
<rect x="879" y="166" width="5" height="5" fill="#000" />
<rect x="880" y="167" width="3" height="3" fill="#fff" />
<rect x="889" y="168" width="1" height="13" fill="#000" />
<rect x="887" y="177" width="5" height="4" fill="#000" />
<rect x="888" y="178" width="3" height="2" fill="#fff" />
<rect x="897" y="169" width="1" height="12" fill="#000" />
<rect x="895" y="173" width="5" height="4" fill="#000" />
<rect x="896" y="174" width="3" height="2" fill="#fff" />
<rect x="905" y="174" width="1" height="21" fill="#000" />
<rect x="903" y="182" width="5" height="13" fill="#000" />
<rect x="904" y="183" width="3" height="11" fill="#fff" />
<rect x="913" y="177" width="1" height="9" fill="#000" />
<rect x="911" y="183" width="5" height="1" fill="#000" />
<rect x="921" y="151" width="1" height="22" fill="#000" />
<rect x="919" y="157" width="5" height="15" fill="#000" />
<rect x="920" y="158" width="3" height="13" fill="#fff" />
<rect x="929" y="152" width="1" height="8" fill="#000" />
<rect x="927" y="155" width="5" height="3" fill="#000" />
<rect x="928" y="156" width="3" height="1" fill="#fff" />
<rect x="937" y="144" width="1" height="13" fill="#000" />
<rect x="935" y="145" width="5" height="5" fill="#000" />
<rect x="936" y="146" width="3" height="3" fill="#fff" />
<rect x="945" y="138" width="1" height="7" fill="#000" />
<rect x="943" y="141" width="5" height="3" fill="#000" />
<rect x="944" y="142" width="3" height="1" fill="#fff" />
<rect x="953" y="137" width="1" height="14" fill="#000" />
<rect x="951" y="139" width="5" height="7" fill="#000" />
<rect x="961" y="146" width="1" height="6" fill="#000" />
<rect x="959" y="148" width="5" height="1" fill="#000" />
<rect x="969" y="133" width="1" height="18" fill="#000" />
<rect x="967" y="138" width="5" height="8" fill="#000" />
<rect x="968" y="139" width="3" height="6" fill="#fff" />
<rect x="977" y="136" width="1" height="9" fill="#000" />
<rect x="975" y="138" width="5" height="5" fill="#000" />
<rect x="985" y="128" width="1" height="22" fill="#000" />
<rect x="983" y="134" width="5" height="14" fill="#000" />
<rect x="984" y="135" width="3" height="12" fill="#fff" />
<rect x="993" y="126" width="1" height="12" fill="#000" />
<rect x="991" y="134" width="5" height="3" fill="#000" />
<rect x="1001" y="145" width="1" height="16" fill="#000" />
<rect x="999" y="145" width="5" height="14" fill="#000" />
<rect x="1009" y="156" width="1" height="8" fill="#000" />
<rect x="1007" y="159" width="5" height="5" fill="#000" />
<rect x="1017" y="149" width="1" height="17" fill="#000" />
<rect x="1015" y="154" width="5" height="7" fill="#000" />
<rect x="1016" y="155" width="3" height="5" fill="#fff" />
<rect x="1025" y="150" width="1" height="6" fill="#000" />
<rect x="1023" y="153" width="5" height="1" fill="#000" />
<rect x="1033" y="145" width="1" height="29" fill="#000" />
<rect x="1031" y="145" width="5" height="25" fill="#000" />
<rect x="1041" y="155" width="1" height="14" fill="#000" />
<rect x="1039" y="164" width="5" height="4" fill="#000" />
<rect x="1040" y="165" width="3" height="2" fill="#fff" />
<rect x="1049" y="165" width="1" height="15" fill="#000" />
<rect x="1047" y="169" width="5" height="3" fill="#000" />
<rect x="1048" y="170" width="3" height="1" fill="#fff" />
<rect x="1057" y="167" width="1" height="13" fill="#000" />
<rect x="1055" y="169" width="5" height="9" fill="#000" />
<rect x="1065" y="186" width="1" height="21" fill="#000" />
<rect x="1063" y="190" width="5" height="12" fill="#000" />
<rect x="1073" y="198" width="1" height="13" fill="#000" />
<rect x="1071" y="201" width="5" height="10" fill="#000" />
<rect x="1081" y="201" width="1" height="14" fill="#000" />
<rect x="1079" y="206" width="5" height="9" fill="#000" />
<rect x="1080" y="207" width="3" height="7" fill="#fff" />
<rect x="1089" y="201" width="1" height="10" fill="#000" />
<rect x="1087" y="204" width="5" height="4" fill="#000" />
<rect x="1088" y="205" width="3" height="2" fill="#fff" />
<rect x="1097" y="210" width="1" height="25" fill="#000" />
<rect x="1095" y="211" width="5" height="24" fill="#000" />
<rect x="1096" y="212" width="3" height="22" fill="#fff" />
<rect x="1105" y="211" width="1" height="8" fill="#000" />
<rect x="1103" y="212" width="5" height="4" fill="#000" />
<rect x="1113" y="219" width="1" height="12" fill="#000" />
<rect x="1111" y="223" width="5" height="6" fill="#000" />
<rect x="1112" y="224" width="3" height="4" fill="#fff" />
<rect x="1121" y="199" width="1" height="29" fill="#000" />
<rect x="1119" y="209" width="5" height="18" fill="#000" />
<rect x="1120" y="210" width="3" height="16" fill="#fff" />
<rect x="1129" y="233" width="1" height="24" fill="#000" />
<rect x="1127" y="242" width="5" height="5" fill="#000" />
<rect x="1137" y="235" width="1" height="20" fill="#000" />
<rect x="1135" y="241" width="5" height="11" fill="#000" />
<rect x="1136" y="242" width="3" height="9" fill="#fff" />
<rect x="1145" y="229" width="1" height="27" fill="#000" />
<rect x="1143" y="231" width="5" height="23" fill="#000" />
<rect x="1144" y="232" width="3" height="21" fill="#fff" />
<rect x="1153" y="231" width="1" height="8" fill="#000" />
<rect x="1151" y="234" width="5" height="1" fill="#000" />
<rect x="1161" y="219" width="1" height="14" fill="#000" />
<rect x="1159" y="219" width="5" height="5" fill="#000" />
<rect x="1169" y="227" width="1" height="15" fill="#000" />
<rect x="1167" y="228" width="5" height="4" fill="#000" />
<rect x="1177" y="231" width="1" height="23" fill="#000" />
<rect x="1175" y="234" width="5" height="3" fill="#000" />
<rect x="1176" y="235" width="3" height="1" fill="#fff" />
<rect x="1185" y="229" width="1" height="13" fill="#000" />
<rect x="1183" y="233" width="5" height="9" fill="#000" />
<rect x="1193" y="221" width="1" height="15" fill="#000" />
<rect x="1191" y="222" width="5" height="11" fill="#000" />
<rect x="1192" y="223" width="3" height="9" fill="#fff" />
<rect x="1201" y="203" width="1" height="19" fill="#000" />
<rect x="1199" y="209" width="5" height="13" fill="#000" />
<rect x="1200" y="210" width="3" height="11" fill="#fff" />
<rect x="1209" y="227" width="1" height="20" fill="#000" />
<rect x="1207" y="229" width="5" height="16" fill="#000" />
<rect x="1217" y="243" width="1" height="9" fill="#000" />
<rect x="1215" y="245" width="5" height="6" fill="#000" />
<rect x="1225" y="296" width="1" height="14" fill="#000" />
<rect x="1223" y="305" width="5" height="1" fill="#000" />
<rect x="1233" y="303" width="1" height="23" fill="#000" />
<rect x="1231" y="308" width="5" height="16" fill="#000" />
<rect x="1241" y="283" width="1" height="34" fill="#000" />
<rect x="1239" y="283" width="5" height="21" fill="#000" />
<rect x="1240" y="284" width="3" height="19" fill="#fff" />
<rect x="1249" y="280" width="1" height="15" fill="#000" />
<rect x="1247" y="282" width="5" height="5" fill="#000" />
<rect x="1257" y="284" width="1" height="16" fill="#000" />
<rect x="1255" y="286" width="5" height="6" fill="#000" />
<rect x="1265" y="295" width="1" height="14" fill="#000" />
<rect x="1263" y="295" width="5" height="11" fill="#000" />
<rect x="1273" y="333" width="1" height="43" fill="#000" />
<rect x="1271" y="334" width="5" height="32" fill="#000" />
<rect x="1281" y="349" width="1" height="24" fill="#000" />
<rect x="1279" y="355" width="5" height="16" fill="#000" />
<rect x="1289" y="427" width="1" height="66" fill="#000" />
<rect x="1287" y="455" width="5" height="14" fill="#000" />
<rect x="1288" y="456" width="3" height="12" fill="#fff" />
<rect x="1297" y="365" width="1" height="59" fill="#000" />
<rect x="1295" y="383" width="5" height="41" fill="#000" />
<rect x="1296" y="384" width="3" height="39" fill="#fff" />
<rect x="1305" y="404" width="1" height="42" fill="#000" />
<rect x="1303" y="414" width="5" height="20" fill="#000" />
<rect x="1304" y="415" width="3" height="18" fill="#fff" />
<rect x="1313" y="415" width="1" height="38" fill="#000" />
<rect x="1311" y="416" width="5" height="37" fill="#000" />
<rect x="1321" y="413" width="1" height="52" fill="#000" />
<rect x="1319" y="423" width="5" height="36" fill="#000" />
<rect x="1320" y="424" width="3" height="34" fill="#fff" />
<rect x="1329" y="416" width="1" height="30" fill="#000" />
<rect x="1327" y="417" width="5" height="19" fill="#000" />
<rect x="1337" y="414" width="1" height="44" fill="#000" />
<rect x="1335" y="425" width="5" height="33" fill="#000" />
<rect x="1336" y="426" width="3" height="31" fill="#fff" />
<rect x="1345" y="425" width="1" height="75" fill="#000" />
<rect x="1343" y="425" width="5" height="75" fill="#000" />
<rect x="1353" y="478" width="1" height="87" fill="#000" />
<rect x="1351" y="499" width="5" height="47" fill="#000" />
<rect x="1361" y="504" width="1" height="52" fill="#000" />
<rect x="1359" y="509" width="5" height="35" fill="#000" />
<rect x="1360" y="510" width="3" height="33" fill="#fff" />
<rect x="1369" y="461" width="1" height="36" fill="#000" />
<rect x="1367" y="483" width="5" height="14" fill="#000" />
<rect x="1368" y="484" width="3" height="12" fill="#fff" />
<rect x="1377" y="431" width="1" height="62" fill="#000" />
<rect x="1375" y="434" width="5" height="45" fill="#000" />
<rect x="1376" y="435" width="3" height="43" fill="#fff" />
</g>
<g shape-rendering="crispEdges">
<rect x="1" y="625" width="1" height="3" fill="#c0c0c0" />
<rect x="9" y="627" width="1" height="1" fill="#c0c0c0" />
<rect x="17" y="627" width="1" height="7" fill="#c0c0c0" />
<rect x="25" y="627" width="1" height="13" fill="#c0c0c0" />
<rect x="33" y="627" width="1" height="16" fill="#c0c0c0" />
<rect x="41" y="627" width="1" height="17" fill="#c0c0c0" />
<rect x="49" y="627" width="1" height="18" fill="#c0c0c0" />
<rect x="57" y="627" width="1" height="16" fill="#c0c0c0" />
<rect x="65" y="627" width="1" height="11" fill="#c0c0c0" />
<rect x="73" y="627" width="1" height="10" fill="#c0c0c0" />
<rect x="81" y="627" width="1" height="9" fill="#c0c0c0" />
<rect x="89" y="627" width="1" height="9" fill="#c0c0c0" />
<rect x="97" y="627" width="1" height="10" fill="#c0c0c0" />
<rect x="105" y="627" width="1" height="11" fill="#c0c0c0" />
<rect x="113" y="627" width="1" height="11" fill="#c0c0c0" />
<rect x="121" y="627" width="1" height="10" fill="#c0c0c0" />
<rect x="129" y="627" width="1" height="5" fill="#c0c0c0" />
<rect x="137" y="627" width="1" height="3" fill="#c0c0c0" />
<rect x="145" y="627" width="1" height="1" fill="#c0c0c0" />
<rect x="153" y="627" width="1" height="1" fill="#c0c0c0" />
<rect x="161" y="626" width="1" height="2" fill="#c0c0c0" />
<rect x="169" y="626" width="1" height="2" fill="#c0c0c0" />
<rect x="177" y="625" width="1" height="3" fill="#c0c0c0" />
<rect x="185" y="627" width="1" height="1" fill="#c0c0c0" />
<rect x="193" y="627" width="1" height="3" fill="#c0c0c0" />
<rect x="201" y="627" width="1" height="5" fill="#c0c0c0" />
<rect x="209" y="627" width="1" height="6" fill="#c0c0c0" />
<rect x="217" y="627" width="1" height="7" fill="#c0c0c0" />
<rect x="225" y="627" width="1" height="10" fill="#c0c0c0" />
<rect x="233" y="627" width="1" height="11" fill="#c0c0c0" />
<rect x="241" y="627" width="1" height="14" fill="#c0c0c0" />
<rect x="249" y="627" width="1" height="16" fill="#c0c0c0" />
<rect x="257" y="627" width="1" height="17" fill="#c0c0c0" />
<rect x="265" y="627" width="1" height="17" fill="#c0c0c0" />
<rect x="273" y="627" width="1" height="16" fill="#c0c0c0" />
<rect x="281" y="627" width="1" height="14" fill="#c0c0c0" />
<rect x="289" y="627" width="1" height="11" fill="#c0c0c0" />
<rect x="297" y="627" width="1" height="10" fill="#c0c0c0" />
<rect x="305" y="627" width="1" height="9" fill="#c0c0c0" />
<rect x="313" y="627" width="1" height="8" fill="#c0c0c0" />
<rect x="321" y="627" width="1" height="6" fill="#c0c0c0" />
<rect x="329" y="627" width="1" height="5" fill="#c0c0c0" />
<rect x="337" y="627" width="1" height="1" fill="#c0c0c0" />
<rect x="345" y="625" width="1" height="3" fill="#c0c0c0" />
<rect x="353" y="617" width="1" height="11" fill="#c0c0c0" />
<rect x="361" y="610" width="1" height="18" fill="#c0c0c0" />
<rect x="369" y="606" width="1" height="22" fill="#c0c0c0" />
<rect x="377" y="603" width="1" height="25" fill="#c0c0c0" />
<rect x="385" y="599" width="1" height="29" fill="#c0c0c0" />
<rect x="393" y="596" width="1" height="32" fill="#c0c0c0" />
<rect x="401" y="594" width="1" height="34" fill="#c0c0c0" />
<rect x="409" y="593" width="1" height="35" fill="#c0c0c0" />
<rect x="417" y="593" width="1" height="35" fill="#c0c0c0" />
<rect x="425" y="593" width="1" height="35" fill="#c0c0c0" />
<rect x="433" y="593" width="1" height="35" fill="#c0c0c0" />
<rect x="441" y="593" width="1" height="35" fill="#c0c0c0" />
<rect x="449" y="593" width="1" height="35" fill="#c0c0c0" />
<rect x="457" y="594" width="1" height="34" fill="#c0c0c0" />
<rect x="465" y="594" width="1" height="34" fill="#c0c0c0" />
<rect x="473" y="593" width="1" height="35" fill="#c0c0c0" />
<rect x="481" y="592" width="1" height="36" fill="#c0c0c0" />
<rect x="489" y="590" width="1" height="38" fill="#c0c0c0" />
<rect x="497" y="590" width="1" height="38" fill="#c0c0c0" />
<rect x="505" y="591" width="1" height="37" fill="#c0c0c0" />
<rect x="513" y="590" width="1" height="38" fill="#c0c0c0" />
<rect x="521" y="589" width="1" height="39" fill="#c0c0c0" />
<rect x="529" y="589" width="1" height="39" fill="#c0c0c0" />
<rect x="537" y="590" width="1" height="38" fill="#c0c0c0" />
<rect x="545" y="594" width="1" height="34" fill="#c0c0c0" />
<rect x="553" y="597" width="1" height="31" fill="#c0c0c0" />
<rect x="561" y="598" width="1" height="30" fill="#c0c0c0" />
<rect x="569" y="600" width="1" height="28" fill="#c0c0c0" />
<rect x="577" y="603" width="1" height="25" fill="#c0c0c0" />
<rect x="585" y="607" width="1" height="21" fill="#c0c0c0" />
<rect x="593" y="607" width="1" height="21" fill="#c0c0c0" />
<rect x="601" y="606" width="1" height="22" fill="#c0c0c0" />
<rect x="609" y="605" width="1" height="23" fill="#c0c0c0" />
<rect x="617" y="604" width="1" height="24" fill="#c0c0c0" />
<rect x="625" y="602" width="1" height="26" fill="#c0c0c0" />
<rect x="633" y="600" width="1" height="28" fill="#c0c0c0" />
<rect x="641" y="599" width="1" height="29" fill="#c0c0c0" />
<rect x="649" y="600" width="1" height="28" fill="#c0c0c0" />
<rect x="657" y="602" width="1" height="26" fill="#c0c0c0" />
<rect x="665" y="603" width="1" height="25" fill="#c0c0c0" />
<rect x="673" y="604" width="1" height="24" fill="#c0c0c0" />
<rect x="681" y="604" width="1" height="24" fill="#c0c0c0" />
<rect x="689" y="604" width="1" height="24" fill="#c0c0c0" />
<rect x="697" y="603" width="1" height="25" fill="#c0c0c0" />
<rect x="705" y="603" width="1" height="25" fill="#c0c0c0" />
<rect x="713" y="607" width="1" height="21" fill="#c0c0c0" />
<rect x="721" y="614" width="1" height="14" fill="#c0c0c0" />
<rect x="729" y="621" width="1" height="7" fill="#c0c0c0" />
<rect x="737" y="625" width="1" height="3" fill="#c0c0c0" />
<rect x="745" y="627" width="1" height="1" fill="#c0c0c0" />
<rect x="753" y="627" width="1" height="4" fill="#c0c0c0" />
<rect x="761" y="627" width="1" height="9" fill="#c0c0c0" />
<rect x="769" y="627" width="1" height="11" fill="#c0c0c0" />
<rect x="777" y="627" width="1" height="19" fill="#c0c0c0" />
<rect x="785" y="627" width="1" height="25" fill="#c0c0c0" />
<rect x="793" y="627" width="1" height="34" fill="#c0c0c0" />
<rect x="801" y="627" width="1" height="42" fill="#c0c0c0" />
<rect x="809" y="627" width="1" height="47" fill="#c0c0c0" />
<rect x="817" y="627" width="1" height="52" fill="#c0c0c0" />
<rect x="825" y="627" width="1" height="57" fill="#c0c0c0" />
<rect x="833" y="627" width="1" height="59" fill="#c0c0c0" />
<rect x="841" y="627" width="1" height="57" fill="#c0c0c0" />
<rect x="849" y="627" width="1" height="54" fill="#c0c0c0" />
<rect x="857" y="627" width="1" height="51" fill="#c0c0c0" />
<rect x="865" y="627" width="1" height="47" fill="#c0c0c0" />
<rect x="873" y="627" width="1" height="41" fill="#c0c0c0" />
<rect x="881" y="627" width="1" height="34" fill="#c0c0c0" />
<rect x="889" y="627" width="1" height="29" fill="#c0c0c0" />
<rect x="897" y="627" width="1" height="25" fill="#c0c0c0" />
<rect x="905" y="627" width="1" height="21" fill="#c0c0c0" />
<rect x="913" y="627" width="1" height="19" fill="#c0c0c0" />
<rect x="921" y="627" width="1" height="15" fill="#c0c0c0" />
<rect x="929" y="627" width="1" height="10" fill="#c0c0c0" />
<rect x="937" y="627" width="1" height="5" fill="#c0c0c0" />
<rect x="945" y="627" width="1" height="1" fill="#c0c0c0" />
<rect x="953" y="626" width="1" height="2" fill="#c0c0c0" />
<rect x="961" y="624" width="1" height="4" fill="#c0c0c0" />
<rect x="969" y="621" width="1" height="7" fill="#c0c0c0" />
<rect x="977" y="620" width="1" height="8" fill="#c0c0c0" />
<rect x="985" y="617" width="1" height="11" fill="#c0c0c0" />
<rect x="993" y="616" width="1" height="12" fill="#c0c0c0" />
<rect x="1001" y="618" width="1" height="10" fill="#c0c0c0" />
<rect x="1009" y="620" width="1" height="8" fill="#c0c0c0" />
<rect x="1017" y="621" width="1" height="7" fill="#c0c0c0" />
<rect x="1025" y="621" width="1" height="7" fill="#c0c0c0" />
<rect x="1033" y="624" width="1" height="4" fill="#c0c0c0" />
<rect x="1041" y="625" width="1" height="3" fill="#c0c0c0" />
<rect x="1049" y="627" width="1" height="1" fill="#c0c0c0" />
<rect x="1057" y="627" width="1" height="1" fill="#c0c0c0" />
<rect x="1065" y="627" width="1" height="6" fill="#c0c0c0" />
<rect x="1073" y="627" width="1" height="11" fill="#c0c0c0" />
<rect x="1081" y="627" width="1" height="15" fill="#c0c0c0" />
<rect x="1089" y="627" width="1" height="17" fill="#c0c0c0" />
<rect x="1097" y="627" width="1" height="20" fill="#c0c0c0" />
<rect x="1105" y="627" width="1" height="22" fill="#c0c0c0" />
<rect x="1113" y="627" width="1" height="24" fill="#c0c0c0" />
<rect x="1121" y="627" width="1" height="24" fill="#c0c0c0" />
<rect x="1129" y="627" width="1" height="28" fill="#c0c0c0" />
<rect x="1137" y="627" width="1" height="31" fill="#c0c0c0" />
<rect x="1145" y="627" width="1" height="31" fill="#c0c0c0" />
<rect x="1153" y="627" width="1" height="31" fill="#c0c0c0" />
<rect x="1161" y="627" width="1" height="30" fill="#c0c0c0" />
<rect x="1169" y="627" width="1" height="29" fill="#c0c0c0" />
<rect x="1177" y="627" width="1" height="29" fill="#c0c0c0" />
<rect x="1185" y="627" width="1" height="29" fill="#c0c0c0" />
<rect x="1193" y="627" width="1" height="28" fill="#c0c0c0" />
<rect x="1201" y="627" width="1" height="23" fill="#c0c0c0" />
<rect x="1209" y="627" width="1" height="24" fill="#c0c0c0" />
<rect x="1217" y="627" width="1" height="26" fill="#c0c0c0" />
<rect x="1225" y="627" width="1" height="33" fill="#c0c0c0" />
<rect x="1233" y="627" width="1" height="42" fill="#c0c0c0" />
<rect x="1241" y="627" width="1" height="42" fill="#c0c0c0" />
<rect x="1249" y="627" width="1" height="43" fill="#c0c0c0" />
<rect x="1257" y="627" width="1" height="43" fill="#c0c0c0" />
<rect x="1265" y="627" width="1" height="45" fill="#c0c0c0" />
<rect x="1273" y="627" width="1" height="54" fill="#c0c0c0" />
<rect x="1281" y="627" width="1" height="61" fill="#c0c0c0" />
<rect x="1289" y="627" width="1" height="76" fill="#c0c0c0" />
<rect x="1297" y="627" width="1" height="78" fill="#c0c0c0" />
<rect x="1305" y="627" width="1" height="83" fill="#c0c0c0" />
<rect x="1313" y="627" width="1" height="91" fill="#c0c0c0" />
<rect x="1321" y="627" width="1" height="92" fill="#c0c0c0" />
<rect x="1329" y="627" width="1" height="94" fill="#c0c0c0" />
<rect x="1337" y="627" width="1" height="93" fill="#c0c0c0" />
<rect x="1345" y="627" width="1" height="100" fill="#c0c0c0" />
<rect x="1353" y="627" width="1" height="111" fill="#c0c0c0" />
<rect x="1361" y="627" width="1" height="114" fill="#c0c0c0" />
<rect x="1369" y="627" width="1" height="111" fill="#c0c0c0" />
<rect x="1377" y="627" width="1" height="101" fill="#c0c0c0" />
<polyline points="0.0,606.0 10.0,610.0 20.0,616.7 33.4,625.0 46.7,631.7 60.0,637.4 73.4,640.0 93.4,640.4 113.4,639.0 133.4,636.7 153.4,634.4 173.4,631.7 186.8,629.0 200.1,628.0 213.5,628.7 233.5,631.7 246.8,635.0 260.2,638.4 276.8,641.0 293.5,641.4 313.5,641.0 330.2,638.4 346.9,634.0 360.2,629.0 373.6,623.4 386.9,616.7 400.2,608.4 413.6,601.7 426.9,597.7 446.9,593.3 466.9,593.3 487.0,591.7 507.0,591.7 527.0,590.7 540.0,590.7 553.3,590.3 570.0,592.3 583.4,595.7 593.4,598.3 606.7,600.7 626.7,603.4 646.7,603.4 673.4,601.3 700.1,601.3 720.1,604.0 740.1,609.0 753.5,614.4 766.8,621.0 780.1,629.4 793.5,636.7 806.8,646.0 820.2,656.0 833.5,666.1 846.9,673.4 856.9,677.7 870.2,679.4 880.2,678.4 893.5,672.7 906.9,666.7 920.2,660.1 933.6,651.7 946.9,644.4 960.3,637.7 973.6,632.4 986.9,626.7 1000.3,623.4 1010.3,619.4 1027.0,619.0 1047.0,619.4 1057.0,621.0 1067.0,625.0 1080.0,628.4 1093.3,632.4 1106.7,638.4 1120.0,642.7 1130.0,646.7 1146.7,651.7 1166.7,655.0 1193.4,656.7 1206.7,655.0 1226.8,655.4 1243.4,657.0 1253.4,660.4 1266.8,663.7 1280.1,669.4 1290.1,676.7 1303.5,684.1 1313.5,691.7 1326.8,700.1 1340.2,708.4 1353.5,716.8 1363.5,722.8 1373.5,727.4 1377.5,727.4" fill="none" stroke="#ff0000" stroke-width="1" stroke-dasharray="3 3"/>
</g>
<g shape-rendering="crispEdges">
<line x1="0" y1="787.5" x2="1602" y2="787.5" stroke="#c0c0c0" stroke-width="1" stroke-dasharray="3 3"/>
<line x1="0" y1="838.5" x2="1602" y2="838.5" stroke="#c0c0c0" stroke-width="1" stroke-dasharray="3 3"/>
<line x1="0" y1="899.5" x2="1602" y2="899.5" stroke="#c0c0c0" stroke-width="1" stroke-dasharray="3 3"/>
</g>
<polyline points="0.0,861.7 1.5,862.7 9.5,865.7 17.5,872.4 25.5,870.7 33.5,866.4 41.5,870.4 49.5,850.7 57.5,847.4 65.5,835.1 73.5,830.4 81.5,836.7 89.5,842.4 97.5,855.4 105.5,855.4 113.5,850.4 121.5,846.1 129.5,827.0 137.5,830.1 145.5,832.4 153.5,832.4 161.5,831.1 169.5,830.4 177.5,833.1 185.5,838.4 193.5,859.4 201.5,861.7 209.5,852.4 217.5,853.4 225.5,854.1 233.5,857.4 241.5,868.4 249.5,869.7 257.5,863.4 265.5,857.7 273.5,845.1 281.5,841.4 289.5,841.4 297.5,841.4 305.5,841.4 313.5,847.4 321.5,838.4 329.5,832.4 337.5,813.4 345.5,816.7 353.5,798.4 361.5,795.0 369.5,803.4 377.5,803.7 385.5,796.4 393.5,798.4 401.5,797.7 409.5,795.4 417.5,808.4 425.5,806.0 433.5,802.4 441.5,802.4 449.5,804.4 457.5,809.4 465.5,805.4 473.5,794.4 481.5,794.4 489.5,789.0 497.5,796.7 505.5,806.7 513.5,798.4 521.5,797.4 529.5,801.7 537.5,810.0 545.5,819.0 553.5,827.4 561.5,816.0 569.5,820.0 577.5,833.4 585.5,838.4 593.5,821.0 601.5,816.7 609.5,815.4 617.5,814.4 625.5,806.7 633.5,805.4 641.5,806.4 649.5,815.7 657.5,822.4 665.5,820.4 673.5,818.4 681.5,814.4 689.5,814.4 697.5,807.0 705.5,816.0 713.5,833.4 721.5,857.4 729.5,864.4 737.5,850.4 745.5,845.4 753.5,859.4 761.5,860.7 769.5,857.4 777.5,873.1 785.5,876.7 793.5,883.1 801.5,887.8 809.5,881.4 817.5,885.4 825.5,883.1 833.5,884.4 841.5,867.1 849.5,859.4 857.5,860.4 865.5,860.4 873.5,840.1 881.5,836.1 889.5,842.4 897.5,840.4 905.5,845.4 913.5,845.4 921.5,830.7 929.5,829.1 937.5,825.0 945.5,823.4 953.5,826.4 961.5,828.4 969.5,822.4 977.5,826.4 985.5,821.4 993.5,823.0 1001.5,839.4 1009.5,842.7 1017.5,836.4 1025.5,836.4 1033.5,847.4 1041.5,842.4 1049.5,846.4 1057.5,851.4 1065.5,865.1 1073.5,868.7 1081.5,865.4 1089.5,863.1 1097.5,867.4 1105.5,869.4 1113.5,872.4 1121.5,859.7 1129.5,875.4 1137.5,871.1 1145.5,862.4 1153.5,864.4 1161.5,855.4 1169.5,860.4 1177.5,860.4 1185.5,865.1 1193.5,848.4 1201.5,839.4 1209.5,858.4 1217.5,860.4 1225.5,877.1 1233.5,881.4 1241.5,859.4 1249.5,860.4 1257.5,862.1 1265.5,866.1 1273.5,880.1 1281.5,881.4 1289.5,892.4 1297.5,865.7 1305.5,870.7 1313.5,877.4 1321.5,866.4 1329.5,868.4 1337.5,864.1 1345.5,876.4 1353.5,881.7 1361.5,870.7 1369.5,862.4 1377.5,851.1" fill="none" stroke="#1e90ff" stroke-width="1" shape-rendering="crispEdges"/>
<g shape-rendering="crispEdges">
<rect x="1603" y="46" width="2" height="1" fill="#000" />
<rect x="1603" y="79" width="2" height="1" fill="#000" />
<rect x="1603" y="112" width="2" height="1" fill="#000" />
<rect x="1603" y="145" width="2" height="1" fill="#000" />
<rect x="1603" y="178" width="2" height="1" fill="#000" />
<rect x="1603" y="211" width="2" height="1" fill="#000" />
<rect x="1603" y="244" width="2" height="1" fill="#000" />
<rect x="1603" y="277" width="2" height="1" fill="#000" />
<rect x="1603" y="310" width="2" height="1" fill="#000" />
<rect x="1603" y="343" width="2" height="1" fill="#000" />
<rect x="1603" y="376" width="2" height="1" fill="#000" />
<rect x="1603" y="409" width="2" height="1" fill="#000" />
<rect x="1603" y="442" width="2" height="1" fill="#000" />
<rect x="1603" y="475" width="2" height="1" fill="#000" />
<rect x="1603" y="508" width="2" height="1" fill="#000" />
<rect x="1603" y="541" width="2" height="1" fill="#000" />
<rect x="1603" y="574" width="2" height="1" fill="#000" />
</g>
<text x="1607.7" y="50" font-size="9.8" fill="#000" text-anchor="start" font-weight="normal" textLength="33.4" lengthAdjust="spacingAndGlyphs" stroke="#000" stroke-width="0.25">29298.0</text>
<text x="1607.7" y="83" font-size="9.8" fill="#000" text-anchor="start" font-weight="normal" textLength="33.4" lengthAdjust="spacingAndGlyphs" stroke="#000" stroke-width="0.25">28770.0</text>
<text x="1607.7" y="116" font-size="9.8" fill="#000" text-anchor="start" font-weight="normal" textLength="33.4" lengthAdjust="spacingAndGlyphs" stroke="#000" stroke-width="0.25">28242.0</text>
<text x="1607.7" y="149" font-size="9.8" fill="#000" text-anchor="start" font-weight="normal" textLength="33.4" lengthAdjust="spacingAndGlyphs" stroke="#000" stroke-width="0.25">27698.0</text>
<text x="1607.7" y="182" font-size="9.8" fill="#000" text-anchor="start" font-weight="normal" textLength="33.4" lengthAdjust="spacingAndGlyphs" stroke="#000" stroke-width="0.25">27170.0</text>
<text x="1607.7" y="215" font-size="9.8" fill="#000" text-anchor="start" font-weight="normal" textLength="33.4" lengthAdjust="spacingAndGlyphs" stroke="#000" stroke-width="0.25">26642.0</text>
<text x="1607.7" y="248" font-size="9.8" fill="#000" text-anchor="start" font-weight="normal" textLength="32.7" lengthAdjust="spacingAndGlyphs" stroke="#000" stroke-width="0.25">26114.0</text>
<text x="1607.7" y="281" font-size="9.8" fill="#000" text-anchor="start" font-weight="normal" textLength="33.4" lengthAdjust="spacingAndGlyphs" stroke="#000" stroke-width="0.25">25570.0</text>
<text x="1607.7" y="314" font-size="9.8" fill="#000" text-anchor="start" font-weight="normal" textLength="33.4" lengthAdjust="spacingAndGlyphs" stroke="#000" stroke-width="0.25">25042.0</text>
<text x="1607.7" y="347" font-size="9.8" fill="#000" text-anchor="start" font-weight="normal" textLength="33.4" lengthAdjust="spacingAndGlyphs" stroke="#000" stroke-width="0.25">24514.0</text>
<text x="1607.7" y="380" font-size="9.8" fill="#000" text-anchor="start" font-weight="normal" textLength="33.4" lengthAdjust="spacingAndGlyphs" stroke="#000" stroke-width="0.25">23986.0</text>
<text x="1607.7" y="413" font-size="9.8" fill="#000" text-anchor="start" font-weight="normal" textLength="33.4" lengthAdjust="spacingAndGlyphs" stroke="#000" stroke-width="0.25">23458.0</text>
<text x="1607.7" y="446" font-size="9.8" fill="#000" text-anchor="start" font-weight="normal" textLength="33.4" lengthAdjust="spacingAndGlyphs" stroke="#000" stroke-width="0.25">22914.0</text>
<text x="1607.7" y="479" font-size="9.8" fill="#000" text-anchor="start" font-weight="normal" textLength="33.4" lengthAdjust="spacingAndGlyphs" stroke="#000" stroke-width="0.25">22386.0</text>
<text x="1607.7" y="512" font-size="9.8" fill="#000" text-anchor="start" font-weight="normal" textLength="33.4" lengthAdjust="spacingAndGlyphs" stroke="#000" stroke-width="0.25">21858.0</text>
<text x="1607.7" y="545" font-size="9.8" fill="#000" text-anchor="start" font-weight="normal" textLength="33.4" lengthAdjust="spacingAndGlyphs" stroke="#000" stroke-width="0.25">21330.0</text>
<text x="1607.7" y="578" font-size="9.8" fill="#000" text-anchor="start" font-weight="normal" textLength="33.4" lengthAdjust="spacingAndGlyphs" stroke="#000" stroke-width="0.25">20802.0</text>
<text x="1606" y="590" font-size="9.8" fill="#000" text-anchor="start" font-weight="normal" textLength="23.1" lengthAdjust="spacingAndGlyphs" stroke="#000" stroke-width="0.25">454.5</text>
<text x="1606" y="631" font-size="9.8" fill="#000" text-anchor="start" font-weight="normal" textLength="18.0" lengthAdjust="spacingAndGlyphs" stroke="#000" stroke-width="0.25">0.00</text>
<text x="1605.6" y="745.8" font-size="9.8" fill="#000" text-anchor="start" font-weight="normal" textLength="35.8" lengthAdjust="spacingAndGlyphs" stroke="#000" stroke-width="0.25">-1198.58</text>
<g shape-rendering="crispEdges">
<rect x="1603" y="581" width="2" height="1" fill="#000" />
<rect x="1603" y="627" width="2" height="1" fill="#000" />
<rect x="1603" y="748" width="2" height="1" fill="#000" />
<rect x="1603" y="753" width="2" height="1" fill="#000" />
<rect x="1603" y="924" width="1" height="1" fill="#000" />
</g>
<text x="1606" y="762" font-size="9.8" fill="#000" text-anchor="start" font-weight="normal" textLength="15.4" lengthAdjust="spacingAndGlyphs" stroke="#000" stroke-width="0.25">100</text>
<text x="1605" y="791" font-size="9.8" fill="#000" text-anchor="start" font-weight="normal" textLength="10.3" lengthAdjust="spacingAndGlyphs" stroke="#000" stroke-width="0.25">80</text>
<text x="1605" y="842" font-size="9.8" fill="#000" text-anchor="start" font-weight="normal" textLength="10.3" lengthAdjust="spacingAndGlyphs" stroke="#000" stroke-width="0.25">50</text>
<text x="1605" y="903" font-size="9.8" fill="#000" text-anchor="start" font-weight="normal" textLength="10.3" lengthAdjust="spacingAndGlyphs" stroke="#000" stroke-width="0.25">15</text>
<text x="1606" y="922" font-size="9.8" fill="#000" text-anchor="start" font-weight="normal" textLength="5.1" lengthAdjust="spacingAndGlyphs" stroke="#000" stroke-width="0.25">0</text>
<rect x="1597.5" y="364.5" width="4" height="4" fill="#fff" stroke="#ff0000" stroke-width="1" shape-rendering="crispEdges"/>
<rect x="1597.5" y="397.5" width="4" height="4" fill="#fff" stroke="#ff0000" stroke-width="1" shape-rendering="crispEdges"/>
<rect x="1597.5" y="450.5" width="4" height="4" fill="#fff" stroke="#32cd32" stroke-width="1" shape-rendering="crispEdges"/>
<rect x="1597.5" y="487.5" width="4" height="4" fill="#fff" stroke="#0000ff" stroke-width="1" shape-rendering="crispEdges"/>
<rect x="1597.5" y="529.5" width="4" height="4" fill="#fff" stroke="#0000ff" stroke-width="1" shape-rendering="crispEdges"/>
<rect x="1604" y="360" width="41" height="11" fill="#ff0000" shape-rendering="crispEdges"/>
<text x="1607.7" y="369.3" font-size="9.8" fill="#fff" text-anchor="start" font-weight="normal" textLength="33.4" lengthAdjust="spacingAndGlyphs" stroke="#fff" stroke-width="0.25">24146.1</text>
<rect x="1604" y="393" width="41" height="11" fill="#ff0000" shape-rendering="crispEdges"/>
<text x="1607.7" y="402.3" font-size="9.8" fill="#fff" text-anchor="start" font-weight="normal" textLength="33.4" lengthAdjust="spacingAndGlyphs" stroke="#fff" stroke-width="0.25">23615.5</text>
<rect x="1604" y="428" width="41" height="11" fill="#000" shape-rendering="crispEdges"/>
<text x="1607.7" y="437.3" font-size="9.8" fill="#fff" text-anchor="start" font-weight="normal" textLength="33.4" lengthAdjust="spacingAndGlyphs" stroke="#fff" stroke-width="0.25">23059.0</text>
<rect x="1604" y="446" width="41" height="11" fill="#32cd32" shape-rendering="crispEdges"/>
<text x="1607.7" y="455.3" font-size="9.8" fill="#fff" text-anchor="start" font-weight="normal" textLength="33.4" lengthAdjust="spacingAndGlyphs" stroke="#fff" stroke-width="0.25">22763.5</text>
<rect x="1604" y="483" width="41" height="11" fill="#0000ff" shape-rendering="crispEdges"/>
<text x="1607.7" y="492.3" font-size="9.8" fill="#fff" text-anchor="start" font-weight="normal" textLength="33.4" lengthAdjust="spacingAndGlyphs" stroke="#fff" stroke-width="0.25">22168.7</text>
<rect x="1604" y="525" width="41" height="11" fill="#0000ff" shape-rendering="crispEdges"/>
<text x="1607.7" y="534.3" font-size="9.8" fill="#fff" text-anchor="start" font-weight="normal" textLength="33.4" lengthAdjust="spacingAndGlyphs" stroke="#fff" stroke-width="0.25">21493.5</text>
<g shape-rendering="crispEdges">
<rect x="57" y="926" width="1" height="3" fill="#000" />
<rect x="121" y="926" width="1" height="3" fill="#000" />
<rect x="185" y="926" width="1" height="3" fill="#000" />
<rect x="249" y="926" width="1" height="3" fill="#000" />
<rect x="313" y="926" width="1" height="3" fill="#000" />
<rect x="377" y="926" width="1" height="3" fill="#000" />
<rect x="441" y="926" width="1" height="3" fill="#000" />
<rect x="505" y="926" width="1" height="3" fill="#000" />
<rect x="569" y="926" width="1" height="3" fill="#000" />
<rect x="633" y="926" width="1" height="3" fill="#000" />
<rect x="697" y="926" width="1" height="3" fill="#000" />
<rect x="761" y="926" width="1" height="3" fill="#000" />
<rect x="825" y="926" width="1" height="3" fill="#000" />
<rect x="889" y="926" width="1" height="3" fill="#000" />
<rect x="953" y="926" width="1" height="3" fill="#000" />
<rect x="1017" y="926" width="1" height="3" fill="#000" />
<rect x="1081" y="926" width="1" height="3" fill="#000" />
<rect x="1145" y="926" width="1" height="3" fill="#000" />
<rect x="1209" y="926" width="1" height="3" fill="#000" />
<rect x="1273" y="926" width="1" height="3" fill="#000" />
<rect x="1337" y="926" width="1" height="3" fill="#000" />
</g>
<text x="46.2" y="937.8" font-size="9.8" fill="#000" text-anchor="end" font-weight="normal" textLength="48.6" lengthAdjust="spacingAndGlyphs" stroke="#000" stroke-width="0.25">2 Nov 2019</text>
<text x="56.4" y="937.8" font-size="9.8" fill="#000" text-anchor="start" font-weight="normal" textLength="56.8" lengthAdjust="spacingAndGlyphs" stroke="#000" stroke-width="0.25">18 Nov 05:00</text>
<text x="120.4" y="937.8" font-size="9.8" fill="#000" text-anchor="start" font-weight="normal" textLength="56.8" lengthAdjust="spacingAndGlyphs" stroke="#000" stroke-width="0.25">22 Nov 05:00</text>
<text x="184.4" y="937.8" font-size="9.8" fill="#000" text-anchor="start" font-weight="normal" textLength="56.8" lengthAdjust="spacingAndGlyphs" stroke="#000" stroke-width="0.25">28 Nov 05:00</text>
<text x="248.4" y="937.8" font-size="9.8" fill="#000" text-anchor="start" font-weight="normal" textLength="51.5" lengthAdjust="spacingAndGlyphs" stroke="#000" stroke-width="0.25">4 Dec 05:00</text>
<text x="312.4" y="937.8" font-size="9.8" fill="#000" text-anchor="start" font-weight="normal" textLength="56.8" lengthAdjust="spacingAndGlyphs" stroke="#000" stroke-width="0.25">10 Dec 05:00</text>
<text x="376.4" y="937.8" font-size="9.8" fill="#000" text-anchor="start" font-weight="normal" textLength="56.8" lengthAdjust="spacingAndGlyphs" stroke="#000" stroke-width="0.25">16 Dec 05:00</text>
<text x="440.4" y="937.8" font-size="9.8" fill="#000" text-anchor="start" font-weight="normal" textLength="56.8" lengthAdjust="spacingAndGlyphs" stroke="#000" stroke-width="0.25">20 Dec 05:00</text>
<text x="504.4" y="937.8" font-size="9.8" fill="#000" text-anchor="start" font-weight="normal" textLength="55.3" lengthAdjust="spacingAndGlyphs" stroke="#000" stroke-width="0.25">31 Dec 01:15</text>
<text x="568.4" y="937.8" font-size="9.8" fill="#000" text-anchor="start" font-weight="normal" textLength="49.9" lengthAdjust="spacingAndGlyphs" stroke="#000" stroke-width="0.25">7 Jan 05:00</text>
<text x="632.4" y="937.8" font-size="9.8" fill="#000" text-anchor="start" font-weight="normal" textLength="55.2" lengthAdjust="spacingAndGlyphs" stroke="#000" stroke-width="0.25">13 Jan 05:00</text>
<text x="696.4" y="937.8" font-size="9.8" fill="#000" text-anchor="start" font-weight="normal" textLength="55.2" lengthAdjust="spacingAndGlyphs" stroke="#000" stroke-width="0.25">17 Jan 05:00</text>
<text x="760.4" y="937.8" font-size="9.8" fill="#000" text-anchor="start" font-weight="normal" textLength="55.2" lengthAdjust="spacingAndGlyphs" stroke="#000" stroke-width="0.25">23 Jan 05:00</text>
<text x="824.4" y="937.8" font-size="9.8" fill="#000" text-anchor="start" font-weight="normal" textLength="49.6" lengthAdjust="spacingAndGlyphs" stroke="#000" stroke-width="0.25">3 Feb 01:15</text>
<text x="888.4" y="937.8" font-size="9.8" fill="#000" text-anchor="start" font-weight="normal" textLength="49.6" lengthAdjust="spacingAndGlyphs" stroke="#000" stroke-width="0.25">7 Feb 01:15</text>
<text x="952.4" y="937.8" font-size="9.8" fill="#000" text-anchor="start" font-weight="normal" textLength="54.8" lengthAdjust="spacingAndGlyphs" stroke="#000" stroke-width="0.25">13 Feb 01:15</text>
<text x="1016.4" y="937.8" font-size="9.8" fill="#000" text-anchor="start" font-weight="normal" textLength="54.8" lengthAdjust="spacingAndGlyphs" stroke="#000" stroke-width="0.25">19 Feb 01:15</text>
<text x="1080.4" y="937.8" font-size="9.8" fill="#000" text-anchor="start" font-weight="normal" textLength="54.8" lengthAdjust="spacingAndGlyphs" stroke="#000" stroke-width="0.25">25 Feb 01:15</text>
<text x="1144.4" y="937.8" font-size="9.8" fill="#000" text-anchor="start" font-weight="normal" textLength="49.6" lengthAdjust="spacingAndGlyphs" stroke="#000" stroke-width="0.25">2 Mar 01:15</text>
<text x="1208.4" y="937.8" font-size="9.8" fill="#000" text-anchor="start" font-weight="normal" textLength="49.6" lengthAdjust="spacingAndGlyphs" stroke="#000" stroke-width="0.25">6 Mar 01:15</text>
<text x="1272.4" y="937.8" font-size="9.8" fill="#000" text-anchor="start" font-weight="normal" textLength="54.8" lengthAdjust="spacingAndGlyphs" stroke="#000" stroke-width="0.25">12 Mar 01:15</text>
<text x="1336.4" y="937.8" font-size="9.8" fill="#000" text-anchor="start" font-weight="normal" textLength="54.8" lengthAdjust="spacingAndGlyphs" stroke="#000" stroke-width="0.25">18 Mar 01:15</text>
<text x="-2" y="592.4" font-size="9.8" fill="#000" text-anchor="start" font-weight="normal" textLength="133.6" lengthAdjust="spacingAndGlyphs" stroke="#000" stroke-width="0.25">MACD(12,26,9) -998.61 -995.07</text>
<text x="-3" y="764.3" font-size="9.8" fill="#000" text-anchor="start" font-weight="normal" textLength="68.6" lengthAdjust="spacingAndGlyphs" stroke="#000" stroke-width="0.25">RSI(14) 43.3058</text>
<text x="8.0" y="35.9" font-size="9.8" fill="#000" text-anchor="start" font-weight="normal" textLength="187.9" lengthAdjust="spacingAndGlyphs" stroke="#000" stroke-width="0.25">HK50-,H4&#160; 22329.0 23096.0 22116.0 23059.0</text>
<path d="M0 35 L0 31.5 L3.5 35 Z" fill="#000"/>
<path d="M1387 25 L1397 25 L1392 30 Z" fill="#a0a0a0"/>
<rect x="1272" y="450" width="140" height="11" fill="#00ff00" shape-rendering="crispEdges"/>
<g shape-rendering="crispEdges"><rect x="1466" y="452" width="8" height="1" fill="#ff0000"/><rect x="1473.5" y="450.5" width="3" height="3" fill="#fff" stroke="#ff0000"/><rect x="1476.5" y="440.5" width="73" height="24" fill="#fff" stroke="#ff0000" stroke-width="1"/></g>
<text x="1478.5" y="461" font-size="22" fill="#ff0000" text-anchor="start" font-weight="normal" textLength="69.5" lengthAdjust="spacingAndGlyphs">22763.5</text>
<line x1="1194.5" y1="214.0" x2="1279.7" y2="493.0" stroke="#ff0000" stroke-width="3.0"/>
<path d="M1281.5 499.0 L1272.2 490.9 L1284.7 487.1 Z" fill="#ff0000"/>
<line x1="1282.5" y1="495.0" x2="1301.5" y2="381.2" stroke="#ff0000" stroke-width="3.0"/>
<path d="M1302.5 375.0 L1307.2 386.4 L1294.4 384.3 Z" fill="#ff0000"/>
<line x1="1302.5" y1="380.0" x2="1350.3" y2="549.9" stroke="#ff0000" stroke-width="3.0"/>
<path d="M1352.0 556.0 L1342.9 547.7 L1355.4 544.1 Z" fill="#ff0000"/>
<line x1="1352.0" y1="551.0" x2="1386.0" y2="412.1" stroke="#ff0000" stroke-width="3.0"/>
<path d="M1387.5 406.0 L1391.3 417.7 L1378.7 414.7 Z" fill="#ff0000"/>
<text x="1397.3" y="411.8" font-size="31.5" fill="#001800" text-anchor="start" font-weight="500" style='font-family:"Liberation Serif", "Noto Serif CJK SC", serif' textLength="163" lengthAdjust="spacingAndGlyphs">多空转折点</text>
<text x="1396" y="410.5" font-size="31.5" fill="#00f800" text-anchor="start" font-weight="500" style='font-family:"Liberation Serif", "Noto Serif CJK SC", serif' textLength="163" lengthAdjust="spacingAndGlyphs">多空转折点</text>
<defs>
<linearGradient id="gr1" x1="0" y1="0" x2="0" y2="1"><stop offset="0" stop-color="#f85050"/><stop offset="1" stop-color="#dc3030"/></linearGradient>
<linearGradient id="gr2" x1="0" y1="0" x2="0" y2="1"><stop offset="0" stop-color="#e03232"/><stop offset="0.55" stop-color="#c81a1a"/><stop offset="1" stop-color="#b20202"/></linearGradient>
<linearGradient id="gb" x1="0" y1="0" x2="0" y2="1"><stop offset="0" stop-color="#f2f2f2"/><stop offset="0.42" stop-color="#e4e4e4"/><stop offset="0.42" stop-color="#d4d4d4"/><stop offset="1" stop-color="#d0d0d0"/></linearGradient>
</defs>
<g shape-rendering="crispEdges">
<rect x="0" y="44" width="48" height="25" fill="url(#gr1)" />
<rect x="163" y="44" width="52" height="25" fill="url(#gr1)" />
<rect x="0" y="68" width="105" height="40" fill="url(#gr2)" />
<rect x="107" y="68" width="108" height="40" fill="url(#gr2)" />
<rect x="0" y="44" width="48" height="1" fill="#c41010" />
<rect x="47" y="44" width="1" height="24" fill="#c41010" />
<rect x="163" y="44" width="52" height="1" fill="#c41010" />
<rect x="163" y="44" width="1" height="24" fill="#c41010" />
<rect x="214" y="44" width="1" height="64" fill="#b40808" />
<rect x="104" y="68" width="1" height="40" fill="#b40808" />
<rect x="0" y="107" width="105" height="1" fill="#a80000" />
<rect x="107" y="107" width="108" height="1" fill="#a80000" />
<rect x="107" y="68" width="1" height="40" fill="#c01010" />
<rect x="48" y="68" width="57" height="1" fill="#c81414" />
<rect x="107" y="68" width="56" height="1" fill="#c81414" />
<rect x="0" y="67" width="44" height="1" fill="#8c0000" />
<rect x="0" y="68" width="44" height="1" fill="#ec5454" />
<rect x="167" y="67" width="44" height="1" fill="#8c0000" />
<rect x="167" y="68" width="44" height="1" fill="#ec5454" />
<rect x="50.5" y="44.5" width="110" height="21" fill="#fff" stroke="#a8acb4"/>
<rect x="52" y="46" width="18" height="18" fill="url(#gb)"/><rect x="71" y="45" width="1" height="20" fill="#a8acb4"/>
<rect x="141" y="46" width="18" height="18" fill="url(#gb)"/><rect x="139" y="45" width="1" height="20" fill="#a8acb4"/>
</g>
<path d="M58 53 L63.5 53 L60.75 56.5 Z" fill="#4a5cc8"/>
<path d="M147 56 L152.5 56 L149.75 52.5 Z" fill="#4a5cc8"/>
<text x="136" y="59" font-size="12.5" fill="#000" text-anchor="end" font-weight="normal" >1.00</text>
<text x="8.3" y="60" font-size="12" fill="#fff" text-anchor="start" font-weight="normal" textLength="26" lengthAdjust="spacingAndGlyphs">SELL</text>
<text x="176.5" y="60" font-size="12" fill="#fff" text-anchor="start" font-weight="normal" >BUY</text>
<text x="12" y="99" font-size="12.5" fill="#fff" text-anchor="start" font-weight="bold" >23057</text>
<text x="122" y="99" font-size="12.5" fill="#fff" text-anchor="start" font-weight="bold" >23072</text>
<text x="50" y="99" font-size="30" fill="#fff" text-anchor="start" font-weight="normal" >.</text>
<text x="58.6" y="99.3" font-size="35" fill="#fff" text-anchor="start" font-weight="normal" textLength="14.8" lengthAdjust="spacingAndGlyphs">5</text>
<text x="161.2" y="99" font-size="30" fill="#fff" text-anchor="start" font-weight="normal" >.</text>
<text x="169.8" y="99.3" font-size="35" fill="#fff" text-anchor="start" font-weight="normal" textLength="14.8" lengthAdjust="spacingAndGlyphs">5</text>
</svg>
</body></html>
